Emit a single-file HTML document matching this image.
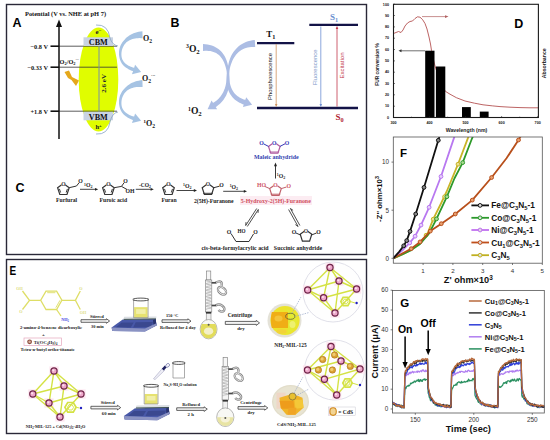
<!DOCTYPE html>
<html><head><meta charset="utf-8"><title>figure</title>
<style>html,body{margin:0;padding:0;background:#fff;width:550px;height:440px;overflow:hidden}svg{display:block}</style>
</head><body>
<svg width="550" height="440" viewBox="0 0 550 440">
<rect width="550" height="440" fill="#fff"/>
<rect x="6.5" y="4.5" width="360" height="250" fill="none" stroke="#2a2838" stroke-width="1.4"/>
<rect x="6.5" y="259.5" width="360" height="174" fill="none" stroke="#2a2838" stroke-width="1.4"/>
<text x="12.4" y="27.3" style="font-family:'Liberation Sans',sans-serif;font-weight:bold;font-size:12.5px" fill="#000" text-anchor="start" >A</text>
<text x="25" y="15.5" style="font-family:'Liberation Serif',serif;font-weight:bold;font-size:6.4px" fill="#111" text-anchor="start" >Potential (V vs. NHE at pH 7)</text>
<ellipse cx="98.5" cy="79.5" rx="19.8" ry="52" fill="#e0fd00"/>
<line x1="59" y1="46.2" x2="117" y2="46.2" stroke="#333" stroke-width="0.8"/>
<line x1="50.5" y1="46.2" x2="59" y2="46.2" stroke="#111" stroke-width="1.6"/>
<line x1="59" y1="67.2" x2="117" y2="67.2" stroke="#333" stroke-width="0.8"/>
<line x1="50.5" y1="67.2" x2="59" y2="67.2" stroke="#111" stroke-width="1.6"/>
<line x1="59" y1="111.2" x2="117" y2="111.2" stroke="#333" stroke-width="0.8"/>
<line x1="50.5" y1="111.2" x2="59" y2="111.2" stroke="#111" stroke-width="1.6"/>
<line x1="59" y1="24" x2="59" y2="139" stroke="#111" stroke-width="1.5"/>
<polygon points="56,27 62,27 59,19.5" fill="#111"/>
<text x="48" y="48.5" style="font-family:'Liberation Serif',serif;font-weight:bold;font-size:6.3px" fill="#111" text-anchor="end" >−0.8 V</text>
<text x="48" y="69.5" style="font-family:'Liberation Serif',serif;font-weight:bold;font-size:6.3px" fill="#111" text-anchor="end" >−0.33 V</text>
<text x="48" y="113.5" style="font-family:'Liberation Serif',serif;font-weight:bold;font-size:6.3px" fill="#111" text-anchor="end" >+1.8 V</text>
<text x="59.6" y="63.8" style="font-family:'Liberation Serif',serif;font-weight:bold;font-size:6.3px" fill="#111" text-anchor="start" >O<tspan baseline-shift="-25%" style="font-size:70%">2</tspan>/O<tspan baseline-shift="-25%" style="font-size:70%">2</tspan><tspan dy="-2.4" style="font-size:60%">·−</tspan></text>
<rect x="83.5" y="37.3" width="29.5" height="8.7" fill="#c9d3e3"/>
<rect x="83.5" y="111.8" width="29.5" height="8.5" fill="#c9d3e3"/>
<text x="98.3" y="45.0" style="font-family:'Liberation Serif',serif;font-weight:bold;font-size:8.2px" fill="#111" text-anchor="middle" >CBM</text>
<text x="98.3" y="119.6" style="font-family:'Liberation Serif',serif;font-weight:bold;font-size:8.2px" fill="#111" text-anchor="middle" >VBM</text>
<text x="98.5" y="34" style="font-family:'Liberation Serif',serif;font-weight:bold;font-size:7px" fill="#222" text-anchor="middle" >e<tspan dy="-2.5" style="font-size:70%">−</tspan></text>
<text x="98.5" y="129" style="font-family:'Liberation Serif',serif;font-weight:bold;font-size:6.5px" fill="#222" text-anchor="middle" >h<tspan dy="-2.5" style="font-size:70%">+</tspan></text>
<line x1="99" y1="46" x2="99" y2="112" stroke="#7890a8" stroke-width="1"/>
<text x="0" y="0" transform="translate(106.2,83.3) rotate(-90)" style="font-family:'Liberation Serif',serif;font-weight:bold;font-size:7px" fill="#223" text-anchor="middle">2.6 eV</text>
<polygon points="64.5,72 69,70.5 72,77 79,80.5 76,86 71.5,80 68,78" fill="#e5a81c"/>
<path d="M96,25 Q108,24 110,38 Q112,45 118,46" fill="none" stroke="#88a4c4" stroke-width="0.8"/>
<path d="M96,134 Q108,135 110,122 Q112,113 118,112" fill="none" stroke="#88a4c4" stroke-width="0.8"/>
<polygon points="142.41,31.30 140.55,31.53 138.67,31.86 136.88,32.28 135.18,32.78 133.57,33.37 132.04,34.03 130.60,34.77 129.25,35.58 128.00,36.44 126.83,37.37 125.76,38.35 124.77,39.38 123.85,40.42 122.98,41.46 122.19,42.56 121.49,43.69 120.87,44.85 120.34,46.05 119.90,47.27 119.54,48.51 119.27,49.77 119.08,51.04 118.98,52.32 118.97,53.59 119.03,54.69 119.13,55.75 119.29,56.77 119.50,57.76 119.76,58.72 120.03,59.66 120.35,60.57 120.72,61.46 121.16,62.31 121.65,63.14 122.19,63.93 122.80,64.69 123.45,65.43 124.16,66.13 124.92,66.79 125.73,67.43 126.59,68.04 127.51,68.62 128.47,69.17 129.47,69.69 130.53,70.19 131.64,70.66 132.79,71.11 133.97,71.52 135.03,68.08 133.88,67.77 132.81,67.45 131.78,67.10 130.81,66.73 129.88,66.33 129.01,65.92 128.19,65.48 127.41,65.01 126.68,64.52 126.00,64.01 125.37,63.47 124.78,62.91 124.24,62.32 123.74,61.70 123.28,61.05 122.87,60.37 122.50,59.65 122.17,58.90 121.88,58.12 121.70,57.28 121.56,56.41 121.47,55.51 121.42,54.57 121.43,53.61 121.50,52.49 121.64,51.39 121.86,50.30 122.15,49.24 122.51,48.19 122.95,47.18 123.45,46.19 124.03,45.23 124.67,44.31 125.39,43.43 126.17,42.58 127.05,41.82 128.03,41.15 129.06,40.54 130.15,39.99 131.30,39.51 132.50,39.09 133.76,38.74 135.07,38.47 136.45,38.27 137.87,38.15 139.36,38.11 140.90,38.16 142.59,38.30" fill="#a6c3e3" fill-opacity="1.0"/>
<polygon points="131.99,74.24 141.15,71.98 135.11,64.74" fill="#a6c3e3" fill-opacity="1.0"/>
<polygon points="142.41,80.10 140.55,80.33 138.67,80.66 136.88,81.08 135.18,81.58 133.57,82.17 132.04,82.83 130.60,83.57 129.25,84.38 128.00,85.24 126.83,86.17 125.76,87.15 124.77,88.18 123.85,89.22 122.98,90.26 122.19,91.36 121.49,92.49 120.87,93.65 120.34,94.85 119.90,96.07 119.54,97.31 119.27,98.57 119.08,99.84 118.98,101.12 118.97,102.39 119.03,103.49 119.13,104.55 119.29,105.57 119.50,106.56 119.76,107.52 120.03,108.46 120.35,109.37 120.72,110.26 121.16,111.11 121.65,111.94 122.19,112.73 122.80,113.49 123.45,114.23 124.16,114.93 124.92,115.59 125.73,116.23 126.59,116.84 127.51,117.42 128.47,117.97 129.47,118.49 130.53,118.99 131.64,119.46 132.79,119.91 133.97,120.32 135.03,116.88 133.88,116.57 132.81,116.25 131.78,115.90 130.81,115.53 129.88,115.13 129.01,114.72 128.19,114.28 127.41,113.81 126.68,113.32 126.00,112.81 125.37,112.27 124.78,111.71 124.24,111.12 123.74,110.50 123.28,109.85 122.87,109.17 122.50,108.45 122.17,107.70 121.88,106.92 121.70,106.08 121.56,105.21 121.47,104.31 121.42,103.37 121.43,102.41 121.50,101.29 121.64,100.19 121.86,99.10 122.15,98.04 122.51,96.99 122.95,95.98 123.45,94.99 124.03,94.03 124.67,93.11 125.39,92.23 126.17,91.38 127.05,90.62 128.03,89.95 129.06,89.34 130.15,88.79 131.30,88.31 132.50,87.89 133.76,87.54 135.07,87.27 136.45,87.07 137.87,86.95 139.36,86.91 140.90,86.96 142.59,87.10" fill="#a6c3e3" fill-opacity="1.0"/>
<polygon points="131.99,123.04 141.15,120.78 135.11,113.54" fill="#a6c3e3" fill-opacity="1.0"/>
<text x="143" y="40.5" style="font-family:'Liberation Serif',serif;font-weight:bold;font-size:8px" fill="#111" text-anchor="start" >O<tspan baseline-shift="-25%" style="font-size:70%">2</tspan></text>
<text x="142" y="80.5" style="font-family:'Liberation Serif',serif;font-weight:bold;font-size:8px" fill="#111" text-anchor="start" >O<tspan baseline-shift="-25%" style="font-size:70%">2</tspan><tspan dy="-3.5" style="font-size:60%">·−</tspan></text>
<text x="143.5" y="125.5" style="font-family:'Liberation Serif',serif;font-weight:bold;font-size:8px" fill="#111" text-anchor="start" ><tspan dy="-3" style="font-size:60%">1</tspan><tspan dy="3">O</tspan><tspan baseline-shift="-25%" style="font-size:70%">2</tspan></text>
<text x="170.6" y="27.2" style="font-family:'Liberation Sans',sans-serif;font-weight:bold;font-size:12.4px" fill="#000" text-anchor="start" >B</text>
<text x="186" y="51.5" style="font-family:'Liberation Serif',serif;font-weight:bold;font-size:9.6px" fill="#111" text-anchor="start" ><tspan dy="-3.5" style="font-size:60%">3</tspan><tspan dy="3.5">O</tspan><tspan baseline-shift="-25%" style="font-size:70%">2</tspan></text>
<text x="188" y="114" style="font-family:'Liberation Serif',serif;font-weight:bold;font-size:9.6px" fill="#111" text-anchor="start" ><tspan dy="-3.5" style="font-size:60%">1</tspan><tspan dy="3.5">O</tspan><tspan baseline-shift="-25%" style="font-size:70%">2</tspan></text>
<polygon points="202.99,51.00 205.08,50.84 206.94,50.80 208.71,50.90 210.38,51.11 211.95,51.44 213.44,51.89 214.84,52.45 216.17,53.11 217.43,53.89 218.61,54.78 219.72,55.79 220.74,56.93 221.69,58.17 222.56,59.51 223.37,60.96 224.10,62.51 224.76,64.16 225.34,65.89 225.85,67.72 226.29,69.62 226.66,71.61 226.77,73.68 226.78,75.82 226.71,78.02 226.67,79.77 226.71,81.49 226.82,83.15 227.01,84.76 227.27,86.31 227.61,87.81 228.02,89.25 228.50,90.64 229.07,91.97 229.71,93.24 230.42,94.45 231.20,95.61 232.05,96.70 232.95,97.74 233.91,98.71 234.93,99.63 236.01,100.49 237.13,101.29 238.30,102.03 239.52,102.71 240.79,103.34 242.09,103.91 243.43,104.43 244.76,104.89 246.24,100.11 244.98,99.77 243.81,99.40 242.68,98.98 241.59,98.52 240.54,98.02 239.54,97.46 238.58,96.87 237.66,96.22 236.78,95.53 235.95,94.79 235.17,93.99 234.42,93.14 233.73,92.24 233.07,91.28 232.47,90.25 231.90,89.17 231.38,88.03 230.91,86.81 230.49,85.53 230.13,84.17 229.82,82.74 229.58,81.24 229.40,79.66 229.29,77.98 229.15,75.74 228.93,73.53 228.67,71.39 228.51,69.29 228.25,67.24 227.91,65.25 227.47,63.32 226.94,61.45 226.31,59.65 225.57,57.92 224.72,56.27 223.76,54.70 222.68,53.21 221.51,51.81 220.21,50.48 218.79,49.26 217.24,48.15 215.56,47.16 213.75,46.29 211.82,45.56 209.77,44.96 207.60,44.50 205.31,44.18 203.01,44.00" fill="#acbde4" fill-opacity="1.0"/>
<polygon points="242.92,107.12 252.14,104.70 246.19,97.25" fill="#acbde4" fill-opacity="1.0"/>
<polygon points="254.79,40.01 252.49,40.31 250.17,40.76 247.97,41.36 245.87,42.09 243.89,42.96 242.02,43.96 240.27,45.09 238.64,46.33 237.12,47.69 235.73,49.15 234.45,50.70 233.26,52.33 232.18,54.05 231.22,55.86 230.37,57.76 229.63,59.73 228.99,61.78 228.46,63.91 228.03,66.10 227.71,68.36 227.38,70.67 227.04,73.04 226.79,75.48 226.64,77.97 226.53,79.67 226.37,81.27 226.15,82.82 225.88,84.30 225.56,85.72 225.20,87.08 224.78,88.38 224.32,89.62 223.84,90.82 223.32,91.97 222.75,93.06 222.14,94.10 221.50,95.10 220.82,96.05 220.10,96.96 219.35,97.82 218.57,98.65 217.75,99.43 216.91,100.17 216.03,100.88 215.12,101.55 214.19,102.18 213.22,102.78 212.19,103.37 214.81,107.63 215.88,106.93 216.96,106.17 218.01,105.37 219.02,104.52 220.00,103.63 220.95,102.70 221.86,101.72 222.72,100.69 223.54,99.63 224.32,98.51 225.05,97.35 225.73,96.15 226.36,94.89 226.94,93.59 227.47,92.25 227.93,90.86 228.33,89.41 228.66,87.92 228.94,86.39 229.15,84.80 229.30,83.18 229.39,81.50 229.41,79.77 229.36,78.03 229.30,75.58 229.33,73.22 229.46,70.92 229.79,68.71 230.31,66.60 230.92,64.58 231.60,62.65 232.37,60.82 233.22,59.09 234.15,57.47 235.16,55.95 236.24,54.55 237.40,53.25 238.64,52.08 239.97,51.04 241.36,50.11 242.83,49.31 244.36,48.62 245.96,48.04 247.63,47.59 249.37,47.26 251.20,47.04 253.11,46.96 255.21,46.99" fill="#acbde4" fill-opacity="1.0"/>
<polygon points="211.54,100.58 207.60,109.27 217.14,109.34" fill="#acbde4" fill-opacity="1.0"/>
<line x1="257" y1="43.1" x2="294.3" y2="43.1" stroke="#131347" stroke-width="2.3"/>
<line x1="309.3" y1="24.9" x2="358" y2="24.9" stroke="#131347" stroke-width="2.3"/>
<line x1="257" y1="108" x2="358" y2="108" stroke="#131347" stroke-width="2.3"/>
<text x="266.3" y="37.2" style="font-family:'Liberation Serif',serif;font-weight:bold;font-size:9px" fill="#111" text-anchor="start" >T<tspan baseline-shift="-25%" style="font-size:70%">1</tspan></text>
<text x="330" y="19.8" style="font-family:'Liberation Serif',serif;font-weight:bold;font-size:9px" fill="#6a8fcf" text-anchor="start" font-weight="normal">S<tspan baseline-shift="-25%" style="font-size:70%">1</tspan></text>
<text x="335.6" y="119.8" style="font-family:'Liberation Serif',serif;font-weight:bold;font-size:9px" fill="#b02432" text-anchor="start" >S<tspan baseline-shift="-25%" style="font-size:70%">0</tspan></text>
<line x1="276.2" y1="44" x2="276.2" y2="106.6" stroke="#cf9460" stroke-width="0.8"/>
<polygon points="274.9,104.1 277.5,104.1 276.2,106.6" fill="#cf9460"/>
<line x1="320.8" y1="26.5" x2="320.8" y2="106.6" stroke="#6f8fd3" stroke-width="0.8"/>
<polygon points="319.5,104.1 322.1,104.1 320.8,106.6" fill="#6f8fd3"/>
<line x1="337" y1="106.6" x2="337" y2="26.5" stroke="#c2394c" stroke-width="0.8"/>
<polygon points="335.7,29.0 338.3,29.0 337,26.5" fill="#c2394c"/>
<text transform="translate(272.4,76.5) rotate(-90)" style="font-family:'Liberation Sans',sans-serif;font-size:5.9px" fill="#222" text-anchor="middle">Phosphorescence</text>
<text transform="translate(316.8,67.3) rotate(-90)" style="font-family:'Liberation Sans',sans-serif;font-size:6px" fill="#7d98c8" text-anchor="middle">Fluorescence</text>
<text transform="translate(344.3,65.5) rotate(-90)" style="font-family:'Liberation Sans',sans-serif;font-size:6px" fill="#c2394c" text-anchor="middle">Excitation</text>
<text x="15.5" y="191.5" style="font-family:'Liberation Sans',sans-serif;font-weight:bold;font-size:12.5px" fill="#000" text-anchor="start" >C</text>
<polygon points="63.4,183.5 69.2,187.7 67.0,194.5 59.8,194.5 57.6,187.7" fill="none" stroke="#333" stroke-width="1.2"/>
<line x1="67.4" y1="188.9" x2="66.2" y2="192.5" stroke="#333" stroke-width="0.96"/>
<line x1="60.6" y1="192.5" x2="59.4" y2="188.9" stroke="#333" stroke-width="0.96"/>
<circle cx="63.4" cy="184.1" r="2.2" fill="#fff"/>
<text x="63.4" y="186.1" style="font-family:'Liberation Serif',serif;font-weight:bold;font-size:5.6px" fill="#333" text-anchor="middle" >O</text>
<polyline points="69.2,187.7 76.5,186 79,182.8" fill="none" stroke="#333" stroke-width="1"/>
<text x="80.5" y="182.5" style="font-family:'Liberation Serif',serif;font-weight:bold;font-size:5.8px" fill="#222" text-anchor="middle" >O</text>
<text x="66.6" y="202.3" style="font-family:'Liberation Serif',serif;font-weight:bold;font-size:5.7px" fill="#222" text-anchor="middle" >Furfural</text>
<line x1="80" y1="189.3" x2="96.2" y2="189.3" stroke="#222" stroke-width="0.85"/>
<polygon points="95.0,187.9 98.2,189.3 95.0,190.70000000000002" fill="#222"/>
<text x="84" y="187.3" style="font-family:'Liberation Serif',serif;font-weight:bold;font-size:5.8px" fill="#222" text-anchor="start" ><tspan dy="-1.8" style="font-size:65%">1</tspan><tspan dy="1.8">O</tspan><tspan baseline-shift="-25%" style="font-size:70%">2</tspan></text>
<polygon points="108.4,183.5 114.2,187.7 112.0,194.5 104.8,194.5 102.6,187.7" fill="none" stroke="#333" stroke-width="1.2"/>
<line x1="112.4" y1="188.9" x2="111.2" y2="192.5" stroke="#333" stroke-width="0.96"/>
<line x1="105.6" y1="192.5" x2="104.4" y2="188.9" stroke="#333" stroke-width="0.96"/>
<circle cx="108.4" cy="184.1" r="2.2" fill="#fff"/>
<text x="108.4" y="186.1" style="font-family:'Liberation Serif',serif;font-weight:bold;font-size:5.6px" fill="#333" text-anchor="middle" >O</text>
<polyline points="114.2,187.7 121.5,186.4 127,189.5" fill="none" stroke="#333" stroke-width="1"/>
<line x1="121.5" y1="186.4" x2="124" y2="182.8" stroke="#333" stroke-width="1"/>
<text x="125.4" y="182.5" style="font-family:'Liberation Serif',serif;font-weight:bold;font-size:5.8px" fill="#222" text-anchor="middle" >O</text>
<text x="130" y="193" style="font-family:'Liberation Serif',serif;font-weight:bold;font-size:5.8px" fill="#222" text-anchor="middle" >OH</text>
<text x="113.3" y="202.3" style="font-family:'Liberation Serif',serif;font-weight:bold;font-size:5.7px" fill="#222" text-anchor="middle" >Furoic acid</text>
<line x1="135.8" y1="189.3" x2="151.8" y2="189.3" stroke="#222" stroke-width="0.85"/>
<polygon points="150.60000000000002,187.9 153.8,189.3 150.60000000000002,190.70000000000002" fill="#222"/>
<text x="139" y="187" style="font-family:'Liberation Serif',serif;font-weight:bold;font-size:5.5px" fill="#222" text-anchor="start" >-CO<tspan baseline-shift="-25%" style="font-size:70%">2</tspan></text>
<polygon points="168.5,183.5 174.3,187.7 172.1,194.5 164.9,194.5 162.7,187.7" fill="none" stroke="#333" stroke-width="1.2"/>
<line x1="172.5" y1="188.9" x2="171.3" y2="192.5" stroke="#333" stroke-width="0.96"/>
<line x1="165.7" y1="192.5" x2="164.5" y2="188.9" stroke="#333" stroke-width="0.96"/>
<circle cx="168.5" cy="184.1" r="2.2" fill="#fff"/>
<text x="168.5" y="186.1" style="font-family:'Liberation Serif',serif;font-weight:bold;font-size:5.6px" fill="#333" text-anchor="middle" >O</text>
<text x="169" y="202.3" style="font-family:'Liberation Serif',serif;font-weight:bold;font-size:5.7px" fill="#222" text-anchor="middle" >Furan</text>
<line x1="176.5" y1="190.5" x2="195" y2="190.5" stroke="#222" stroke-width="0.85"/>
<polygon points="193.8,189.1 197,190.5 193.8,191.9" fill="#222"/>
<text x="183" y="188.2" style="font-family:'Liberation Serif',serif;font-weight:bold;font-size:5.8px" fill="#222" text-anchor="start" ><tspan dy="-1.8" style="font-size:65%">1</tspan><tspan dy="1.8">O</tspan><tspan baseline-shift="-25%" style="font-size:70%">2</tspan></text>
<polygon points="208.0,183.5 213.8,187.7 211.6,194.5 204.4,194.5 202.2,187.7" fill="none" stroke="#333" stroke-width="1.2"/>
<line x1="212.8" y1="193.3" x2="203.2" y2="193.3" stroke="#333" stroke-width="0.96"/>
<circle cx="208.0" cy="184.1" r="2.2" fill="#fff"/>
<text x="208.0" y="186.1" style="font-family:'Liberation Serif',serif;font-weight:bold;font-size:5.6px" fill="#333" text-anchor="middle" >O</text>
<line x1="213.8" y1="187.7" x2="219.5" y2="186.2" stroke="#333" stroke-width="1"/>
<text x="221.5" y="187" style="font-family:'Liberation Serif',serif;font-weight:bold;font-size:5.8px" fill="#222" text-anchor="middle" >O</text>
<text x="213.7" y="202.6" style="font-family:'Liberation Serif',serif;font-weight:bold;font-size:5.7px" fill="#222" text-anchor="middle" >2(5H)-Furanone</text>
<line x1="223.2" y1="191.3" x2="245" y2="191.3" stroke="#222" stroke-width="0.85"/>
<polygon points="243.8,189.9 247,191.3 243.8,192.70000000000002" fill="#222"/>
<text x="229.7" y="189" style="font-family:'Liberation Serif',serif;font-weight:bold;font-size:5.8px" fill="#222" text-anchor="start" ><tspan dy="-1.8" style="font-size:65%">1</tspan><tspan dy="1.8">O</tspan><tspan baseline-shift="-25%" style="font-size:70%">2</tspan></text>
<rect x="240" y="196" width="72" height="9" fill="#fcecf2"/>
<polygon points="275.5,184.4 281.3,188.6 279.1,195.4 271.9,195.4 269.7,188.6" fill="none" stroke="#c0606a" stroke-width="1.2"/>
<line x1="280.3" y1="194.2" x2="270.7" y2="194.2" stroke="#c0606a" stroke-width="0.96"/>
<circle cx="275.5" cy="185.0" r="2.2" fill="#fff"/>
<text x="275.5" y="187.0" style="font-family:'Liberation Serif',serif;font-weight:bold;font-size:5.6px" fill="#cf5566" text-anchor="middle" >O</text>
<text x="261.4" y="187.3" style="font-family:'Liberation Serif',serif;font-weight:bold;font-size:5.8px" fill="#cf5566" text-anchor="middle" >HO</text>
<line x1="265" y1="186.5" x2="269.7" y2="188.6" stroke="#c0606a" stroke-width="1"/>
<line x1="281.3" y1="188.6" x2="286.5" y2="187" stroke="#c0606a" stroke-width="1"/>
<text x="288.7" y="187.5" style="font-family:'Liberation Serif',serif;font-weight:bold;font-size:5.8px" fill="#cf5566" text-anchor="middle" >O</text>
<text x="275.8" y="202.7" style="font-family:'Liberation Serif',serif;font-weight:bold;font-size:5.9px" fill="#d0505f" text-anchor="middle" >5-Hydroxy-2(5H)-Furanone</text>
<line x1="275.5" y1="178.5" x2="275.5" y2="165" stroke="#222" stroke-width="0.9"/>
<polygon points="274,166.3 275.5,162.5 277,166.3" fill="#222"/>
<text x="276.8" y="177.5" style="font-family:'Liberation Serif',serif;font-weight:bold;font-size:5.8px" fill="#222" text-anchor="start" ><tspan dy="-1.8" style="font-size:65%">1</tspan><tspan dy="1.8">O</tspan><tspan baseline-shift="-25%" style="font-size:70%">2</tspan></text>
<polygon points="274.3,142.2 280.1,146.4 277.9,153.2 270.7,153.2 268.5,146.4" fill="none" stroke="#b05aa0" stroke-width="1.2"/>
<line x1="279.1" y1="152.0" x2="269.5" y2="152.0" stroke="#b05aa0" stroke-width="0.96"/>
<circle cx="274.3" cy="142.8" r="2.2" fill="#fff"/>
<text x="274.3" y="144.8" style="font-family:'Liberation Serif',serif;font-weight:bold;font-size:5.6px" fill="#3438b8" text-anchor="middle" >O</text>
<text x="261.4" y="144.6" style="font-family:'Liberation Serif',serif;font-weight:bold;font-size:5.8px" fill="#3438b8" text-anchor="middle" >O</text>
<text x="287" y="144.6" style="font-family:'Liberation Serif',serif;font-weight:bold;font-size:5.8px" fill="#3438b8" text-anchor="middle" >O</text>
<line x1="263.5" y1="143.8" x2="268.5" y2="146.4" stroke="#3438b8" stroke-width="1"/>
<line x1="280" y1="146.4" x2="285" y2="143.8" stroke="#3438b8" stroke-width="1"/>
<text x="276.3" y="158.8" style="font-family:'Liberation Serif',serif;font-weight:bold;font-size:5.95px" fill="#3444b0" text-anchor="middle" >Maleic anhydride</text>
<line x1="247.3" y1="226.5" x2="258.3" y2="209.5" stroke="#222" stroke-width="0.8"/>
<line x1="258.3" y1="209.5" x2="258.0" y2="212.9" stroke="#222" stroke-width="0.8"/>
<line x1="245.7" y1="225.5" x2="256.7" y2="208.5" stroke="#222" stroke-width="0.8"/>
<line x1="245.7" y1="225.5" x2="246.0" y2="222.1" stroke="#222" stroke-width="0.8"/>
<line x1="288.6" y1="209.5" x2="298.1" y2="226.5" stroke="#222" stroke-width="0.8"/>
<line x1="298.1" y1="226.5" x2="295.4" y2="224.6" stroke="#222" stroke-width="0.8"/>
<line x1="290.4" y1="208.5" x2="299.9" y2="225.5" stroke="#222" stroke-width="0.8"/>
<line x1="290.4" y1="208.5" x2="293.1" y2="210.4" stroke="#222" stroke-width="0.8"/>
<polyline points="231,233.5 236,241.5 249,241.5 253.5,234" fill="none" stroke="#333" stroke-width="1"/>
<text x="229" y="233.5" style="font-family:'Liberation Serif',serif;font-weight:bold;font-size:5.8px" fill="#222" text-anchor="middle" >O</text>
<text x="241.5" y="233" style="font-family:'Liberation Serif',serif;font-weight:bold;font-size:5.2px" fill="#222" text-anchor="middle" >HO</text>
<text x="255.5" y="233.5" style="font-family:'Liberation Serif',serif;font-weight:bold;font-size:5.8px" fill="#222" text-anchor="middle" >O</text>
<text x="235" y="250.3" style="font-family:'Liberation Serif',serif;font-weight:bold;font-size:5.9px" fill="#222" text-anchor="middle" >cis-beta-formylacrylic acid</text>
<polygon points="306.0,230.1 311.8,234.3 309.6,241.1 302.4,241.1 300.2,234.3" fill="none" stroke="#333" stroke-width="1.2"/>
<circle cx="306.0" cy="230.7" r="2.2" fill="#fff"/>
<text x="306.0" y="232.7" style="font-family:'Liberation Serif',serif;font-weight:bold;font-size:5.6px" fill="#333" text-anchor="middle" >O</text>
<text x="294" y="233.5" style="font-family:'Liberation Serif',serif;font-weight:bold;font-size:5.8px" fill="#222" text-anchor="middle" >O</text>
<text x="318.6" y="233.5" style="font-family:'Liberation Serif',serif;font-weight:bold;font-size:5.8px" fill="#222" text-anchor="middle" >O</text>
<line x1="296" y1="233" x2="300.5" y2="235" stroke="#333" stroke-width="1"/>
<line x1="311.5" y1="235" x2="316.5" y2="233" stroke="#333" stroke-width="1"/>
<text x="298" y="250.3" style="font-family:'Liberation Serif',serif;font-weight:bold;font-size:5.9px" fill="#222" text-anchor="middle" >Succinic anhydride</text>
<text x="9.5" y="275" style="font-family:'Liberation Sans',sans-serif;font-weight:bold;font-size:12.5px" fill="#000" text-anchor="start" transform="translate(1.9 0) scale(0.8 1)">E</text>
<polygon points="61.9,300.3 56.6,309.5 46.0,309.5 40.7,300.3 46.0,291.1 56.6,291.1" fill="none" stroke="#dede66" stroke-width="1.3"/>
<line x1="47.2" y1="292.7" x2="55.4" y2="292.7" stroke="#dede66" stroke-width="0.9"/>
<line x1="55.8" y1="307.7" x2="60.0" y2="300.3" stroke="#dede66" stroke-width="0.9"/>
<polyline points="22.5,291 29.5,300.3 40.699999999999996,300.3" fill="none" stroke="#dede66" stroke-width="1.3"/>
<line x1="29.5" y1="300.3" x2="22.5" y2="309.5" stroke="#dede66" stroke-width="1.3"/>
<polyline points="61.9,300.3 75.4,300.3 80.3,291" fill="none" stroke="#dede66" stroke-width="1.3"/>
<line x1="75.4" y1="300.3" x2="80.3" y2="309.5" stroke="#dede66" stroke-width="1.3"/>
<line x1="56.6" y1="309.5" x2="61" y2="316" stroke="#dede66" stroke-width="1.3"/>
<text x="19.5" y="290" style="font-family:'Liberation Serif',serif;font-weight:bold;font-size:4.2px" fill="#e0e08a" text-anchor="middle" >OH</text>
<text x="21" y="313" style="font-family:'Liberation Serif',serif;font-weight:bold;font-size:4.2px" fill="#e0e08a" text-anchor="middle" >O</text>
<text x="81" y="290" style="font-family:'Liberation Serif',serif;font-weight:bold;font-size:4.2px" fill="#e0e08a" text-anchor="middle" >O</text>
<text x="83" y="313.5" style="font-family:'Liberation Serif',serif;font-weight:bold;font-size:4.2px" fill="#e0e08a" text-anchor="middle" >OH</text>
<text x="65" y="321.3" style="font-family:'Liberation Serif',serif;font-weight:bold;font-size:4.2px" fill="#4040e0" text-anchor="middle" >NH<tspan baseline-shift="-25%" style="font-size:70%">2</tspan></text>
<text x="51" y="329.2" style="font-family:'Liberation Serif',serif;font-weight:bold;font-size:4.55px" fill="#222" text-anchor="middle" >2-amino-4-benzene dicarboxylic</text>
<text x="43.5" y="336" style="font-family:'Liberation Serif',serif;font-weight:bold;font-size:5px" fill="#333" text-anchor="middle" >+</text>
<rect x="24" y="338" width="37.5" height="7.5" fill="#fff" stroke="#e4a6bc" stroke-width="0.7"/>
<circle cx="29.6" cy="341.8" r="2.4" fill="#8a4a3a"/><circle cx="29.6" cy="341.8" r="1.3" fill="#d8b0a0"/>
<text x="45.5" y="344" style="font-family:'Liberation Serif',serif;font-weight:bold;font-size:4.8px" fill="#333" text-anchor="middle" >Ti(OC<tspan baseline-shift="-25%" style="font-size:70%">4</tspan>H<tspan baseline-shift="-25%" style="font-size:70%">9</tspan>)<tspan baseline-shift="-25%" style="font-size:70%">4</tspan></text>
<text x="47.7" y="351.3" style="font-family:'Liberation Serif',serif;font-weight:bold;font-size:4.55px" fill="#222" text-anchor="middle" >Tetra-n-butyl ortho-titanate</text>
<polygon points="81,319.7 106.39999999999999,319.7 106.39999999999999,318.7 109.6,321 106.39999999999999,323.3 106.39999999999999,322.3 81,322.3" fill="#f4f4f4" stroke="#333" stroke-width="0.75"/>
<text x="96.9" y="317.8" style="font-family:'Liberation Serif',serif;font-weight:bold;font-size:4.6px" fill="#222" text-anchor="middle" >Stirred</text>
<text x="97.4" y="327.5" style="font-family:'Liberation Serif',serif;font-weight:bold;font-size:4.4px" fill="#222" text-anchor="middle" >30 min</text>
<polygon points="122.7,319.6 155.7,318.8 156.5,325.5 145.0,331.6 112.3,331.0 111.6,327.5" fill="#4858a8"/>
<polygon points="121.7,322.5 133.7,322.5 130.7,327.5 115.7,327.5" fill="#3a488f"/>
<polygon points="135.7,322.3 153.0,322.0 151.0,327.0 133.2,327.5" fill="#3a488f"/>
<polygon points="155.7,318.8 156.5,325.5 153.5,326.5 153.0,320.0" fill="#2a3470"/>
<polygon points="111.6,327.5 145.0,328.6 156.5,323.2 156.5,325.5 145.0,331.6 112.3,331.0" fill="#8b93c3"/>
<polygon points="124.2,316.8 156.5,316.4 156.0,319.0 123.2,319.6" fill="#dadee2"/>
<line x1="123.7" y1="319.4" x2="156.0" y2="318.9" stroke="#3d5052" stroke-width="1"/>
<rect x="134.1" y="307.144" width="13.5" height="10.555999999999983" fill="#e6e270"/>
<rect x="136.1" y="309.144" width="9.5" height="4.750199999999992" fill="#f4f2b8" opacity="0.8"/>
<path d="M133.6,299.5 L133.6,317.7 L148.1,317.7 L148.1,299.5" fill="none" stroke="#888" stroke-width="0.7"/>
<ellipse cx="140.85" cy="299.5" rx="8.05" ry="1.4" fill="none" stroke="#444" stroke-width="0.9"/>
<polygon points="162,319.8 187.8,319.8 187.8,318.8 191,321.1 187.8,323.40000000000003 187.8,322.40000000000003 162,322.40000000000003" fill="#f4f4f4" stroke="#333" stroke-width="0.75"/>
<text x="172.1" y="316.6" style="font-family:'Liberation Serif',serif;font-weight:bold;font-size:4.3px" fill="#222" text-anchor="middle" >150 °C</text>
<text x="177.9" y="328.9" style="font-family:'Liberation Serif',serif;font-weight:bold;font-size:4.56px" fill="#222" text-anchor="middle" >Refluxed for 4 day</text>
<rect x="206.4" y="271" width="4.4" height="9" fill="#f6f6f6" stroke="#777" stroke-width="0.6"/>
<rect x="205.4" y="280" width="6.4" height="32" fill="#f4f4f4" stroke="#777" stroke-width="0.6"/>
<path d="M206.4,281 Q212.6,281.8 210.79999999999998,282.6 Q204.6,283.4 206.4,284.2 Q212.6,285.0 210.79999999999998,285.8 Q204.6,286.59999999999997 206.4,287.4 Q212.6,288.2 210.79999999999998,289.0 Q204.6,289.79999999999995 206.4,290.59999999999997 Q212.6,291.40000000000003 210.79999999999998,292.20000000000005 Q204.6,293.0 206.4,293.8 Q212.6,294.6 210.79999999999998,295.40000000000003 Q204.6,296.2 206.4,297.0 Q212.6,297.8 210.79999999999998,298.6 Q204.6,299.4 206.4,300.2 Q212.6,301.0 210.79999999999998,301.8 Q204.6,302.59999999999997 206.4,303.4 Q212.6,304.2 210.79999999999998,305.0 Q204.6,305.79999999999995 206.4,306.59999999999997 Q212.6,307.40000000000003 210.79999999999998,308.20000000000005 Q204.6,309.0 206.4,309.8" fill="none" stroke="#8a8a8a" stroke-width="0.5"/>
<rect x="206.2" y="312" width="4.8" height="9.0" fill="#f0f0f0" stroke="#777" stroke-width="0.5"/>
<rect x="206.0" y="312" width="5.2" height="1.6" fill="#333"/>
<clipPath id="fl1"><rect x="199.15" y="324" width="18.9" height="19.4"/></clipPath>
<ellipse cx="208.6" cy="329.2" rx="8.45" ry="9.7" fill="#f8f8f4" stroke="#8a8a8a" stroke-width="0.6"/>
<ellipse cx="208.6" cy="329.2" rx="8.049999999999999" ry="9.299999999999999" fill="#e2dc5a" clip-path="url(#fl1)"/>
<ellipse cx="208.6" cy="331.14" rx="4.6475" ry="3.686" fill="#f4f0c8" clip-path="url(#fl1)"/>
<circle cx="208.6" cy="324.8" r="1.0" fill="#555"/>
<path d="M215.6,282.8 C219.6,280.3 222.6,281.3 221.6,285.8" fill="none" stroke="#858585" stroke-width="2.3"/>
<ellipse cx="222.0" cy="290.8" rx="4.6" ry="3.1" transform="rotate(40 222.0 290.8)" fill="none" stroke="#858585" stroke-width="2.3"/>
<path d="M215.6,305.5 C220.6,302.5 225.6,307.5 224.1,310.5 C222.6,312.5 219.6,311.5 218.6,310.0" fill="none" stroke="#858585" stroke-width="2.3"/>
<path d="M215.6,282.8 C219.6,280.3 222.6,281.3 221.6,285.8" fill="none" stroke="#e4e4e4" stroke-width="0.9"/>
<ellipse cx="222.0" cy="290.8" rx="4.6" ry="3.1" transform="rotate(40 222.0 290.8)" fill="none" stroke="#e4e4e4" stroke-width="0.9"/>
<path d="M215.6,305.5 C220.6,302.5 225.6,307.5 224.1,310.5 C222.6,312.5 219.6,311.5 218.6,310.0" fill="none" stroke="#e4e4e4" stroke-width="0.9"/>
<line x1="211.6" y1="282.8" x2="216.1" y2="282.8" stroke="#4a4a4a" stroke-width="1.7"/>
<line x1="211.6" y1="305.5" x2="216.1" y2="305.5" stroke="#4a4a4a" stroke-width="1.7"/>
<polygon points="225.3,321.4 256.3,321.4 256.3,320.4 259.5,322.9 256.3,325.4 256.3,324.4 225.3,324.4" fill="#f4f4f4" stroke="#333" stroke-width="0.75"/>
<text x="240" y="317.1" style="font-family:'Liberation Serif',serif;font-weight:bold;font-size:5.3px" fill="#222" text-anchor="middle" >Centrifuge</text>
<text x="240.9" y="329.8" style="font-family:'Liberation Serif',serif;font-weight:bold;font-size:5.0px" fill="#222" text-anchor="middle" >dry</text>
<circle cx="284.5" cy="320.5" r="17" fill="#e4e2d8"/>
<circle cx="285.0" cy="320.5" r="14.62" fill="#ece42e"/>
<path d="M286.5,308.5 Q296.5,311.5 297.5,321.5 Q295.5,330.5 287.5,333.5 L288.5,322.5 Z" fill="#e4ea34"/>
<path d="M271.8,312.0 L288.0,312.0 L288.0,328.0 L271.8,328.0 Q270.0,320.5 271.8,312.0 Z" fill="#f0ae16"/>
<ellipse cx="278.5" cy="318.5" rx="4" ry="3" fill="#f4c43a"/>
<ellipse cx="281.5" cy="331.5" rx="5" ry="2.2" fill="#f2d23a"/>
<ellipse cx="292.5" cy="324.5" rx="3" ry="3.5" fill="#eef070"/>
<ellipse cx="290.3" cy="316.3" rx="4.6" ry="3" fill="none" stroke="#4a4a3a" stroke-width="0.7"/>
<line x1="292" y1="313.2" x2="301" y2="297" stroke="#9aa8c8" stroke-width="0.7" stroke-dasharray="1.5,1"/>
<line x1="295" y1="316.5" x2="309" y2="312.5" stroke="#9aa8c8" stroke-width="0.7" stroke-dasharray="1.5,1"/>
<text x="290.5" y="347.3" style="font-family:'Liberation Serif',serif;font-weight:bold;font-size:5.4px" fill="#222" text-anchor="middle" >NH<tspan baseline-shift="-25%" style="font-size:70%">2</tspan>-MIL-125</text>
<circle cx="333" cy="292" r="30" fill="#fefefe" stroke="#dcdce6" stroke-width="0.9"/>
<rect x="325.4" y="262.9" width="9.2" height="9.2" fill="#fde6f0"/>
<rect x="334.4" y="276.4" width="9.2" height="9.2" fill="#fde6f0"/>
<rect x="303.09999999999997" y="285.4" width="9.2" height="9.2" fill="#fde6f0"/>
<rect x="352.0" y="284.4" width="9.2" height="9.2" fill="#fde6f0"/>
<rect x="319.0" y="293.09999999999997" width="9.2" height="9.2" fill="#fde6f0"/>
<rect x="330.4" y="308.4" width="9.2" height="9.2" fill="#fde6f0"/>
<line x1="330" y1="267.5" x2="307.7" y2="290" stroke="#d4e244" stroke-width="1.4"/>
<line x1="330" y1="267.5" x2="356.6" y2="289" stroke="#d4e244" stroke-width="1.4"/>
<line x1="330" y1="267.5" x2="323.6" y2="297.7" stroke="#d4e244" stroke-width="1.4"/>
<line x1="330" y1="267.5" x2="339" y2="281" stroke="#d4e244" stroke-width="1.4"/>
<line x1="335" y1="313" x2="307.7" y2="290" stroke="#d4e244" stroke-width="1.4"/>
<line x1="335" y1="313" x2="356.6" y2="289" stroke="#d4e244" stroke-width="1.4"/>
<line x1="335" y1="313" x2="323.6" y2="297.7" stroke="#d4e244" stroke-width="1.4"/>
<line x1="335" y1="313" x2="339" y2="281" stroke="#d4e244" stroke-width="1.4"/>
<line x1="307.7" y1="290" x2="323.6" y2="297.7" stroke="#d4e244" stroke-width="1.4"/>
<line x1="323.6" y1="297.7" x2="356.6" y2="289" stroke="#d4e244" stroke-width="1.4"/>
<line x1="356.6" y1="289" x2="339" y2="281" stroke="#d4e244" stroke-width="1.4"/>
<line x1="307.7" y1="290" x2="339" y2="281" stroke="#d4e244" stroke-width="1.4"/>
<polygon points="350.2,301.5 347.9,305.6 343.1,305.6 340.8,301.5 343.1,297.4 347.9,297.4" fill="none" stroke="#d4e244" stroke-width="1.7"/>
<polygon points="348.1,301.5 346.8,303.7 344.2,303.7 342.9,301.5 344.2,299.3 346.8,299.3" fill="none" stroke="#d4e244" stroke-width="0.9"/>
<line x1="350.2" y1="301.5" x2="355.1" y2="303" stroke="#d4e244" stroke-width="1"/>
<circle cx="356.6" cy="303" r="1.2" fill="#2020c0"/>
<circle cx="330" cy="267.5" r="3.1" fill="#eea6ca" stroke="#6e2448" stroke-width="1.2"/>
<circle cx="329.3" cy="266.8" r="1.1" fill="#fbe2ee"/>
<circle cx="339" cy="281" r="3.1" fill="#eea6ca" stroke="#6e2448" stroke-width="1.2"/>
<circle cx="338.3" cy="280.3" r="1.1" fill="#fbe2ee"/>
<circle cx="307.7" cy="290" r="3.1" fill="#eea6ca" stroke="#6e2448" stroke-width="1.2"/>
<circle cx="307.0" cy="289.3" r="1.1" fill="#fbe2ee"/>
<circle cx="356.6" cy="289" r="3.1" fill="#eea6ca" stroke="#6e2448" stroke-width="1.2"/>
<circle cx="355.90000000000003" cy="288.3" r="1.1" fill="#fbe2ee"/>
<circle cx="323.6" cy="297.7" r="3.1" fill="#eea6ca" stroke="#6e2448" stroke-width="1.2"/>
<circle cx="322.90000000000003" cy="297.0" r="1.1" fill="#fbe2ee"/>
<circle cx="335" cy="313" r="3.1" fill="#eea6ca" stroke="#6e2448" stroke-width="1.2"/>
<circle cx="334.3" cy="312.3" r="1.1" fill="#fbe2ee"/>
<rect x="49.4" y="366.4" width="9.2" height="9.2" fill="#fde6f0"/>
<rect x="59.4" y="381.4" width="9.2" height="9.2" fill="#fde6f0"/>
<rect x="28.199999999999996" y="389.4" width="9.2" height="9.2" fill="#fde6f0"/>
<rect x="76.4" y="389.4" width="9.2" height="9.2" fill="#fde6f0"/>
<rect x="44.4" y="398.4" width="9.2" height="9.2" fill="#fde6f0"/>
<rect x="55.4" y="412.4" width="9.2" height="9.2" fill="#fde6f0"/>
<line x1="54" y1="371" x2="32.8" y2="394" stroke="#d4e244" stroke-width="1.4"/>
<line x1="54" y1="371" x2="81" y2="394" stroke="#d4e244" stroke-width="1.4"/>
<line x1="54" y1="371" x2="49" y2="403" stroke="#d4e244" stroke-width="1.4"/>
<line x1="54" y1="371" x2="64" y2="386" stroke="#d4e244" stroke-width="1.4"/>
<line x1="60" y1="417" x2="32.8" y2="394" stroke="#d4e244" stroke-width="1.4"/>
<line x1="60" y1="417" x2="81" y2="394" stroke="#d4e244" stroke-width="1.4"/>
<line x1="60" y1="417" x2="49" y2="403" stroke="#d4e244" stroke-width="1.4"/>
<line x1="60" y1="417" x2="64" y2="386" stroke="#d4e244" stroke-width="1.4"/>
<line x1="32.8" y1="394" x2="49" y2="403" stroke="#d4e244" stroke-width="1.4"/>
<line x1="49" y1="403" x2="81" y2="394" stroke="#d4e244" stroke-width="1.4"/>
<line x1="81" y1="394" x2="64" y2="386" stroke="#d4e244" stroke-width="1.4"/>
<line x1="32.8" y1="394" x2="64" y2="386" stroke="#d4e244" stroke-width="1.4"/>
<polygon points="76.1,407.3 73.3,412.1 67.7,412.1 64.9,407.3 67.7,402.5 73.3,402.5" fill="none" stroke="#d4e244" stroke-width="1.7"/>
<polygon points="73.6,407.3 72.0,410.0 69.0,410.0 67.4,407.3 69.0,404.6 72.0,404.6" fill="none" stroke="#d4e244" stroke-width="0.9"/>
<line x1="76.1" y1="407.3" x2="79.5" y2="408" stroke="#d4e244" stroke-width="1"/>
<circle cx="81" cy="408" r="1.2" fill="#2020c0"/>
<circle cx="54" cy="371" r="3.1" fill="#eea6ca" stroke="#6e2448" stroke-width="1.2"/>
<circle cx="53.3" cy="370.3" r="1.1" fill="#fbe2ee"/>
<circle cx="64" cy="386" r="3.1" fill="#eea6ca" stroke="#6e2448" stroke-width="1.2"/>
<circle cx="63.3" cy="385.3" r="1.1" fill="#fbe2ee"/>
<circle cx="32.8" cy="394" r="3.1" fill="#eea6ca" stroke="#6e2448" stroke-width="1.2"/>
<circle cx="32.099999999999994" cy="393.3" r="1.1" fill="#fbe2ee"/>
<circle cx="81" cy="394" r="3.1" fill="#eea6ca" stroke="#6e2448" stroke-width="1.2"/>
<circle cx="80.3" cy="393.3" r="1.1" fill="#fbe2ee"/>
<circle cx="49" cy="403" r="3.1" fill="#eea6ca" stroke="#6e2448" stroke-width="1.2"/>
<circle cx="48.3" cy="402.3" r="1.1" fill="#fbe2ee"/>
<circle cx="60" cy="417" r="3.1" fill="#eea6ca" stroke="#6e2448" stroke-width="1.2"/>
<circle cx="59.3" cy="416.3" r="1.1" fill="#fbe2ee"/>
<text x="55.5" y="428.3" style="font-family:'Liberation Serif',serif;font-weight:bold;font-size:4.25px" fill="#222" text-anchor="middle" >NH<tspan baseline-shift="-25%" style="font-size:70%">2</tspan>-MIL-125 + Cd(NO<tspan baseline-shift="-25%" style="font-size:70%">3</tspan>)<tspan baseline-shift="-25%" style="font-size:70%">2</tspan>·4H<tspan baseline-shift="-25%" style="font-size:70%">2</tspan>O</text>
<polygon points="90.9,406.3 117.5,406.3 117.5,405.3 120.7,407.6 117.5,409.90000000000003 117.5,408.90000000000003 90.9,408.90000000000003" fill="#f4f4f4" stroke="#333" stroke-width="0.75"/>
<text x="107.8" y="404.4" style="font-family:'Liberation Serif',serif;font-weight:bold;font-size:4.6px" fill="#222" text-anchor="middle" >Stirred</text>
<text x="108.7" y="415" style="font-family:'Liberation Serif',serif;font-weight:bold;font-size:4.7px" fill="#222" text-anchor="middle" >60 min</text>
<polygon points="135.0,408.2 168.7,407.4 169.5,414.1 157.3,420.2 124.6,419.6 123.9,416.1" fill="#4858a8"/>
<polygon points="134.0,411.1 146.0,411.1 143.0,416.1 128.0,416.1" fill="#3a488f"/>
<polygon points="148.0,410.9 166.0,410.6 164.0,415.6 145.5,416.1" fill="#3a488f"/>
<polygon points="168.7,407.4 169.5,414.1 166.5,415.1 166.0,408.6" fill="#2a3470"/>
<polygon points="123.9,416.1 157.3,417.2 169.5,411.8 169.5,414.1 157.3,420.2 124.6,419.6" fill="#8b93c3"/>
<polygon points="136.5,405.4 169.5,405.0 169.0,407.6 135.5,408.2" fill="#dadee2"/>
<line x1="136" y1="408.0" x2="169" y2="407.5" stroke="#3d5052" stroke-width="1"/>
<rect x="144.7" y="393.99" width="12.8" height="10.009999999999991" fill="#e6e270"/>
<rect x="146.7" y="395.99" width="8.8" height="4.504499999999996" fill="#f4f2b8" opacity="0.8"/>
<path d="M144.2,385.8 L144.2,404.0 L158.0,404.0 L158.0,385.8" fill="none" stroke="#888" stroke-width="0.7"/>
<ellipse cx="151.1" cy="385.8" rx="7.7" ry="1.4" fill="none" stroke="#444" stroke-width="0.9"/>
<polygon points="153.5,378.8 162.5,368.2 164.8,370.2 155,379.6" fill="#eeeef6" stroke="#9a9ab8" stroke-width="0.5"/>
<line x1="162.8" y1="369.6" x2="165.8" y2="366.4" stroke="#1e2060" stroke-width="2.6"/>
<path d="M165.6,366.6 C166,363.5 168.5,362.5 169.5,364.5 C170,366 168,367.5 166.4,367.2" fill="#f4f4fa" stroke="#5a5e98" stroke-width="0.7"/>
<rect x="173.5" y="378.0" width="10.5" height="0.0" fill="#e6e270"/>
<rect x="175.5" y="380.0" width="6.5" height="0.0" fill="#f4f2b8" opacity="0.8"/>
<path d="M173,363 L173,378 L184.5,378 L184.5,363" fill="none" stroke="#888" stroke-width="0.7"/>
<ellipse cx="178.75" cy="363" rx="6.55" ry="1.4" fill="none" stroke="#444" stroke-width="0.9"/>
<text x="180" y="385.8" style="font-family:'Liberation Serif',serif;font-weight:bold;font-size:3.9px" fill="#222" text-anchor="middle" >Na<tspan baseline-shift="-25%" style="font-size:70%">2</tspan>S·9H<tspan baseline-shift="-25%" style="font-size:70%">2</tspan>O solution</text>
<polygon points="176.7,407.8 204.10000000000002,407.8 204.10000000000002,406.8 207.3,409.1 204.10000000000002,411.40000000000003 204.10000000000002,410.40000000000003 176.7,410.40000000000003" fill="#f4f4f4" stroke="#333" stroke-width="0.75"/>
<text x="191.1" y="405.5" style="font-family:'Liberation Serif',serif;font-weight:bold;font-size:4.65px" fill="#222" text-anchor="middle" >Refluxed</text>
<text x="190.7" y="416.4" style="font-family:'Liberation Serif',serif;font-weight:bold;font-size:4.8px" fill="#222" text-anchor="middle" >2 h</text>
<rect x="223.10000000000002" y="357.3" width="4.4" height="9" fill="#f6f6f6" stroke="#777" stroke-width="0.6"/>
<rect x="222.10000000000002" y="366.3" width="6.4" height="33.69999999999999" fill="#f4f4f4" stroke="#777" stroke-width="0.6"/>
<path d="M223.10000000000002,367.3 Q229.3,368.1 227.5,368.90000000000003 Q221.3,369.7 223.10000000000002,370.5 Q229.3,371.3 227.5,372.1 Q221.3,372.9 223.10000000000002,373.7 Q229.3,374.5 227.5,375.3 Q221.3,376.09999999999997 223.10000000000002,376.9 Q229.3,377.70000000000005 227.5,378.50000000000006 Q221.3,379.3 223.10000000000002,380.1 Q229.3,380.90000000000003 227.5,381.70000000000005 Q221.3,382.5 223.10000000000002,383.3 Q229.3,384.1 227.5,384.90000000000003 Q221.3,385.7 223.10000000000002,386.5 Q229.3,387.3 227.5,388.1 Q221.3,388.9 223.10000000000002,389.7 Q229.3,390.5 227.5,391.3 Q221.3,392.09999999999997 223.10000000000002,392.9 Q229.3,393.70000000000005 227.5,394.50000000000006 Q221.3,395.3 223.10000000000002,396.1" fill="none" stroke="#8a8a8a" stroke-width="0.5"/>
<rect x="222.9" y="400" width="4.8" height="9.399999999999977" fill="#f0f0f0" stroke="#777" stroke-width="0.5"/>
<rect x="222.70000000000002" y="400" width="5.2" height="1.6" fill="#333"/>
<clipPath id="fl2"><rect x="215.70000000000002" y="417.3" width="19.2" height="18.6"/></clipPath>
<ellipse cx="225.3" cy="417.2" rx="8.6" ry="9.3" fill="#f8f8f4" stroke="#8a8a8a" stroke-width="0.6"/>
<ellipse cx="225.3" cy="417.2" rx="8.2" ry="8.9" fill="#e8e4a4" clip-path="url(#fl2)"/>
<ellipse cx="225.3" cy="419.06" rx="4.73" ry="3.5340000000000003" fill="#f6f2d8" clip-path="url(#fl2)"/>
<circle cx="225.3" cy="418.1" r="1.0" fill="#555"/>
<path d="M232.3,369.1 C236.3,366.6 239.3,367.6 238.3,372.1" fill="none" stroke="#858585" stroke-width="2.3"/>
<ellipse cx="238.70000000000002" cy="377.1" rx="4.6" ry="3.1" transform="rotate(40 238.70000000000002 377.1)" fill="none" stroke="#858585" stroke-width="2.3"/>
<path d="M232.3,393.5 C237.3,390.5 242.3,395.5 240.8,398.5 C239.3,400.5 236.3,399.5 235.3,398.0" fill="none" stroke="#858585" stroke-width="2.3"/>
<path d="M232.3,369.1 C236.3,366.6 239.3,367.6 238.3,372.1" fill="none" stroke="#e4e4e4" stroke-width="0.9"/>
<ellipse cx="238.70000000000002" cy="377.1" rx="4.6" ry="3.1" transform="rotate(40 238.70000000000002 377.1)" fill="none" stroke="#e4e4e4" stroke-width="0.9"/>
<path d="M232.3,393.5 C237.3,390.5 242.3,395.5 240.8,398.5 C239.3,400.5 236.3,399.5 235.3,398.0" fill="none" stroke="#e4e4e4" stroke-width="0.9"/>
<line x1="228.3" y1="369.1" x2="232.8" y2="369.1" stroke="#4a4a4a" stroke-width="1.7"/>
<line x1="228.3" y1="393.5" x2="232.8" y2="393.5" stroke="#4a4a4a" stroke-width="1.7"/>
<polygon points="238,406.59999999999997 264.6,406.59999999999997 264.6,405.59999999999997 267.8,407.9 264.6,410.2 264.6,409.2 238,409.2" fill="#f4f4f4" stroke="#333" stroke-width="0.75"/>
<text x="251.1" y="403.9" style="font-family:'Liberation Serif',serif;font-weight:bold;font-size:4.73px" fill="#222" text-anchor="middle" >Centrifuge</text>
<text x="251.1" y="413.7" style="font-family:'Liberation Serif',serif;font-weight:bold;font-size:4.8px" fill="#222" text-anchor="middle" >dry</text>
<ellipse cx="290.5" cy="401.7" rx="18.5" ry="16.650000000000002" fill="#e2ddca"/>
<ellipse cx="290.5" cy="401.7" rx="17.205000000000002" ry="15.54" fill="#e8e4d2"/>
<rect x="276.5" y="392.7" width="9" height="16" fill="#f2d0c0" opacity="0.7"/>
<path d="M279.5,397.7 L292.5,393.7 L302.5,397.7 L303.5,407.7 L295.5,414.7 L286.5,414.7 L280.5,407.7 Z" fill="#f0b428"/>
<path d="M279.5,400.7 L293.5,400.7 L294.5,408.7 L281.5,408.7 Z" fill="#ee9c1c"/>
<path d="M294.5,399.7 L302.5,399.7 L303.5,407.7 L295.5,408.7 Z" fill="#f4c838"/>
<path d="M288.5,407.7 L296.5,407.7 L295.5,414.7 L287.5,414.7 Z" fill="#f0a424"/>
<circle cx="292.5" cy="396.5" r="3.5" fill="#e8c030" stroke="#7a6a3a" stroke-width="0.7"/>
<line x1="294" y1="393" x2="303" y2="377" stroke="#9aa8c8" stroke-width="0.7" stroke-dasharray="1.5,1"/>
<line x1="295.5" y1="396" x2="309" y2="389" stroke="#9aa8c8" stroke-width="0.7" stroke-dasharray="1.5,1"/>
<text x="296.5" y="425.8" style="font-family:'Liberation Serif',serif;font-weight:bold;font-size:4.8px" fill="#222" text-anchor="middle" >CdS/NH<tspan baseline-shift="-25%" style="font-size:70%">2</tspan>-MIL-125</text>
<circle cx="334.5" cy="370" r="30" fill="#fefefe" stroke="#dcdce6" stroke-width="0.9"/>
<rect x="326.4" y="341.9" width="9.2" height="9.2" fill="#fde6f0"/>
<rect x="336.4" y="356.4" width="9.2" height="9.2" fill="#fde6f0"/>
<rect x="302.9" y="365.4" width="9.2" height="9.2" fill="#fde6f0"/>
<rect x="355.4" y="364.4" width="9.2" height="9.2" fill="#fde6f0"/>
<rect x="319.79999999999995" y="374.7" width="9.2" height="9.2" fill="#fde6f0"/>
<rect x="332.09999999999997" y="390.4" width="9.2" height="9.2" fill="#fde6f0"/>
<line x1="331" y1="346.5" x2="307.5" y2="370" stroke="#d4e244" stroke-width="1.4"/>
<line x1="331" y1="346.5" x2="360" y2="369" stroke="#d4e244" stroke-width="1.4"/>
<line x1="331" y1="346.5" x2="324.4" y2="379.3" stroke="#d4e244" stroke-width="1.4"/>
<line x1="331" y1="346.5" x2="341" y2="361" stroke="#d4e244" stroke-width="1.4"/>
<line x1="336.7" y1="395" x2="307.5" y2="370" stroke="#d4e244" stroke-width="1.4"/>
<line x1="336.7" y1="395" x2="360" y2="369" stroke="#d4e244" stroke-width="1.4"/>
<line x1="336.7" y1="395" x2="324.4" y2="379.3" stroke="#d4e244" stroke-width="1.4"/>
<line x1="336.7" y1="395" x2="341" y2="361" stroke="#d4e244" stroke-width="1.4"/>
<line x1="307.5" y1="370" x2="324.4" y2="379.3" stroke="#d4e244" stroke-width="1.4"/>
<line x1="324.4" y1="379.3" x2="360" y2="369" stroke="#d4e244" stroke-width="1.4"/>
<line x1="360" y1="369" x2="341" y2="361" stroke="#d4e244" stroke-width="1.4"/>
<line x1="307.5" y1="370" x2="341" y2="361" stroke="#d4e244" stroke-width="1.4"/>
<polygon points="352.2,383.0 349.9,387.1 345.1,387.1 342.8,383.0 345.1,378.9 349.9,378.9" fill="none" stroke="#d4e244" stroke-width="1.7"/>
<polygon points="350.1,383.0 348.8,385.2 346.2,385.2 344.9,383.0 346.2,380.8 348.8,380.8" fill="none" stroke="#d4e244" stroke-width="0.9"/>
<line x1="352.2" y1="383" x2="358.5" y2="385" stroke="#d4e244" stroke-width="1"/>
<circle cx="360" cy="385" r="1.2" fill="#2020c0"/>
<circle cx="334.6" cy="355" r="3.2" fill="#dca034" stroke="#a87018" stroke-width="0.6"/>
<circle cx="334.0" cy="354.4" r="1.6" fill="#f0cc70"/>
<circle cx="322.7" cy="359.5" r="3.2" fill="#dca034" stroke="#a87018" stroke-width="0.6"/>
<circle cx="322.09999999999997" cy="358.9" r="1.6" fill="#f0cc70"/>
<circle cx="350.3" cy="366.4" r="3.2" fill="#dca034" stroke="#a87018" stroke-width="0.6"/>
<circle cx="349.7" cy="365.79999999999995" r="1.6" fill="#f0cc70"/>
<circle cx="318.4" cy="370" r="3.2" fill="#dca034" stroke="#a87018" stroke-width="0.6"/>
<circle cx="317.79999999999995" cy="369.4" r="1.6" fill="#f0cc70"/>
<circle cx="332.4" cy="370" r="3.2" fill="#dca034" stroke="#a87018" stroke-width="0.6"/>
<circle cx="331.79999999999995" cy="369.4" r="1.6" fill="#f0cc70"/>
<circle cx="331" cy="346.5" r="3.1" fill="#eea6ca" stroke="#6e2448" stroke-width="1.2"/>
<circle cx="330.3" cy="345.8" r="1.1" fill="#fbe2ee"/>
<circle cx="341" cy="361" r="3.1" fill="#eea6ca" stroke="#6e2448" stroke-width="1.2"/>
<circle cx="340.3" cy="360.3" r="1.1" fill="#fbe2ee"/>
<circle cx="307.5" cy="370" r="3.1" fill="#eea6ca" stroke="#6e2448" stroke-width="1.2"/>
<circle cx="306.8" cy="369.3" r="1.1" fill="#fbe2ee"/>
<circle cx="360" cy="369" r="3.1" fill="#eea6ca" stroke="#6e2448" stroke-width="1.2"/>
<circle cx="359.3" cy="368.3" r="1.1" fill="#fbe2ee"/>
<circle cx="324.4" cy="379.3" r="3.1" fill="#eea6ca" stroke="#6e2448" stroke-width="1.2"/>
<circle cx="323.7" cy="378.6" r="1.1" fill="#fbe2ee"/>
<circle cx="336.7" cy="395" r="3.1" fill="#eea6ca" stroke="#6e2448" stroke-width="1.2"/>
<circle cx="336.0" cy="394.3" r="1.1" fill="#fbe2ee"/>
<rect x="328.3" y="407" width="26.9" height="8.6" fill="#fff" stroke="#c8c8d0" stroke-width="0.5"/>
<rect x="329" y="407.5" width="7" height="8" fill="#f8d8e4"/>
<ellipse cx="333.1" cy="411.6" rx="3.2" ry="3.8" fill="#f2d494" stroke="#d08c1c" stroke-width="1.1"/>
<text x="345.7" y="414.3" style="font-family:'Liberation Serif',serif;font-weight:bold;font-size:5.6px" fill="#222" text-anchor="middle" >= CdS</text>
<path d="M393.5,33.5 L396,32.5 L398.5,31.5 L401,32.5 L403,30 L405,26 L407.5,23 L410,21.5 L412.5,21 L415,18.5 L417.5,16.8 L420,17.2 L422.5,19.5 L425,23.5 L427,29 L429,37 L430.5,44 L431.5,50.5 L433,58 L435,66 L438,75 L441,83 L443.5,88.5 L445.5,91.4 L450,94.2 L456.4,97.7 L465,101 L474.5,103.2 L483,104.8 L492.7,105.9 L500,106.6 L510,107.2 L520,107.6 L530,107.8 L538.5,107.8" fill="none" stroke="#b04848" stroke-width="0.85"/>
<rect x="425.2" y="50.7" width="9.3" height="66.8" fill="#000"/>
<rect x="435.9" y="66.5" width="9.4" height="51.0" fill="#000"/>
<rect x="462" y="107.1" width="8.8" height="10.4" fill="#000"/>
<rect x="479.8" y="111.6" width="8.8" height="5.9" fill="#000"/>
<line x1="400" y1="50.8" x2="425" y2="50.8" stroke="#333" stroke-width="0.7"/>
<polygon points="401.5,49.3 398.5,50.8 401.5,52.3" fill="#333"/>
<line x1="422" y1="16.6" x2="446.5" y2="16.6" stroke="#b06060" stroke-width="0.7"/>
<polygon points="445,15.2 448.5,16.6 445,18" fill="#b06060"/>
<rect x="393.5" y="4.3" width="144.89999999999998" height="113.2" fill="none" stroke="#1a1a1a" stroke-width="1.1"/>
<line x1="393.5" y1="117.5" x2="395.0" y2="117.5" stroke="#222" stroke-width="0.6"/>
<text x="389.0" y="118.8" style="font-family:'Liberation Sans',sans-serif;font-weight:bold;font-size:3.7px" fill="#111" text-anchor="end" >0</text>
<line x1="393.5" y1="106.2" x2="395.0" y2="106.2" stroke="#222" stroke-width="0.6"/>
<text x="389.0" y="107.47" style="font-family:'Liberation Sans',sans-serif;font-weight:bold;font-size:3.7px" fill="#111" text-anchor="end" >10</text>
<line x1="393.5" y1="94.8" x2="395.0" y2="94.8" stroke="#222" stroke-width="0.6"/>
<text x="389.0" y="96.14" style="font-family:'Liberation Sans',sans-serif;font-weight:bold;font-size:3.7px" fill="#111" text-anchor="end" >20</text>
<line x1="393.5" y1="83.5" x2="395.0" y2="83.5" stroke="#222" stroke-width="0.6"/>
<text x="389.0" y="84.80999999999999" style="font-family:'Liberation Sans',sans-serif;font-weight:bold;font-size:3.7px" fill="#111" text-anchor="end" >30</text>
<line x1="393.5" y1="72.2" x2="395.0" y2="72.2" stroke="#222" stroke-width="0.6"/>
<text x="389.0" y="73.48" style="font-family:'Liberation Sans',sans-serif;font-weight:bold;font-size:3.7px" fill="#111" text-anchor="end" >40</text>
<line x1="393.5" y1="60.9" x2="395.0" y2="60.9" stroke="#222" stroke-width="0.6"/>
<text x="389.0" y="62.15" style="font-family:'Liberation Sans',sans-serif;font-weight:bold;font-size:3.7px" fill="#111" text-anchor="end" >50</text>
<line x1="393.5" y1="49.5" x2="395.0" y2="49.5" stroke="#222" stroke-width="0.6"/>
<text x="389.0" y="50.81999999999999" style="font-family:'Liberation Sans',sans-serif;font-weight:bold;font-size:3.7px" fill="#111" text-anchor="end" >60</text>
<line x1="393.5" y1="38.2" x2="395.0" y2="38.2" stroke="#222" stroke-width="0.6"/>
<text x="389.0" y="39.489999999999995" style="font-family:'Liberation Sans',sans-serif;font-weight:bold;font-size:3.7px" fill="#111" text-anchor="end" >70</text>
<line x1="393.5" y1="26.9" x2="395.0" y2="26.9" stroke="#222" stroke-width="0.6"/>
<text x="389.0" y="28.16" style="font-family:'Liberation Sans',sans-serif;font-weight:bold;font-size:3.7px" fill="#111" text-anchor="end" >80</text>
<line x1="393.5" y1="15.5" x2="395.0" y2="15.5" stroke="#222" stroke-width="0.6"/>
<text x="389.0" y="16.830000000000002" style="font-family:'Liberation Sans',sans-serif;font-weight:bold;font-size:3.7px" fill="#111" text-anchor="end" >90</text>
<line x1="393.5" y1="4.2" x2="395.0" y2="4.2" stroke="#222" stroke-width="0.6"/>
<text x="389.0" y="5.500000000000003" style="font-family:'Liberation Sans',sans-serif;font-weight:bold;font-size:3.7px" fill="#111" text-anchor="end" >100</text>
<line x1="393.5" y1="117.5" x2="393.5" y2="116.0" stroke="#222" stroke-width="0.6"/>
<text x="393.5" y="123.9" style="font-family:'Liberation Sans',sans-serif;font-weight:bold;font-size:3.7px" fill="#111" text-anchor="middle" >300</text>
<line x1="429.6" y1="117.5" x2="429.6" y2="116.0" stroke="#222" stroke-width="0.6"/>
<text x="429.55" y="123.9" style="font-family:'Liberation Sans',sans-serif;font-weight:bold;font-size:3.7px" fill="#111" text-anchor="middle" >400</text>
<line x1="465.6" y1="117.5" x2="465.6" y2="116.0" stroke="#222" stroke-width="0.6"/>
<text x="465.6" y="123.9" style="font-family:'Liberation Sans',sans-serif;font-weight:bold;font-size:3.7px" fill="#111" text-anchor="middle" >500</text>
<line x1="501.6" y1="117.5" x2="501.6" y2="116.0" stroke="#222" stroke-width="0.6"/>
<text x="501.65" y="123.9" style="font-family:'Liberation Sans',sans-serif;font-weight:bold;font-size:3.7px" fill="#111" text-anchor="middle" >600</text>
<line x1="537.7" y1="117.5" x2="537.7" y2="116.0" stroke="#222" stroke-width="0.6"/>
<text x="537.7" y="123.9" style="font-family:'Liberation Sans',sans-serif;font-weight:bold;font-size:3.7px" fill="#111" text-anchor="middle" >700</text>
<line x1="411.5" y1="117.5" x2="411.5" y2="116.6" stroke="#222" stroke-width="0.5"/>
<line x1="447.6" y1="117.5" x2="447.6" y2="116.6" stroke="#222" stroke-width="0.5"/>
<line x1="483.6" y1="117.5" x2="483.6" y2="116.6" stroke="#222" stroke-width="0.5"/>
<line x1="519.7" y1="117.5" x2="519.7" y2="116.6" stroke="#222" stroke-width="0.5"/>
<text x="466.5" y="132.3" style="font-family:'Liberation Sans',sans-serif;font-weight:bold;font-size:5.2px" fill="#222" text-anchor="middle" >Wavelength (nm)</text>
<text transform="translate(378.9,64.5) rotate(-90)" style="font-family:'Liberation Sans',sans-serif;font-weight:bold;font-size:4.8px" fill="#222" text-anchor="middle">FUR conversion %</text>
<text transform="translate(546.4,63.3) rotate(-90)" style="font-family:'Liberation Sans',sans-serif;font-weight:bold;font-size:5.2px" fill="#222" text-anchor="middle">Absorbance</text>
<text x="514.3" y="27.8" style="font-family:'Liberation Sans',sans-serif;font-weight:bold;font-size:12.5px" fill="#000" text-anchor="start" >D</text>
<clipPath id="cf"><rect x="393.3" y="137" width="149" height="126.2"/></clipPath>
<path d="M393.3,258.3 L402.2,254.5 L411.2,249.6 L420.1,242.9 L427.6,233.3 L433.2,219.2 L441.0,203.5 L446.9,191.0 L458.0,164.2 L468.1,137.6 L473.8,123.6" fill="none" stroke="#c8b428" stroke-width="1.8" stroke-linejoin="round" clip-path="url(#cf)"/>
<circle cx="426.1" cy="235.2" r="1.9" fill="#e8e090" stroke="#c8b428" stroke-width="1" clip-path="url(#cf)"/>
<circle cx="433.2" cy="219.2" r="1.9" fill="#e8e090" stroke="#c8b428" stroke-width="1" clip-path="url(#cf)"/>
<circle cx="444.6" cy="196.7" r="1.9" fill="#e8e090" stroke="#c8b428" stroke-width="1" clip-path="url(#cf)"/>
<circle cx="458.0" cy="164.2" r="1.9" fill="#e8e090" stroke="#c8b428" stroke-width="1" clip-path="url(#cf)"/>
<path d="M393.3,258.3 L402.2,254.5 L411.2,250.1 L420.1,243.9 L429.1,233.3 L436.5,218.9 L446.9,196.7 L454.4,178.5 L462.7,162.6 L471.4,140.0 L478.2,123.6" fill="none" stroke="#2e9a2a" stroke-width="1.8" stroke-linejoin="round" clip-path="url(#cf)"/>
<circle cx="436.5" cy="218.9" r="1.9" fill="#a8d890" stroke="#2e9a2a" stroke-width="1" clip-path="url(#cf)"/>
<circle cx="446.9" cy="196.7" r="1.9" fill="#a8d890" stroke="#2e9a2a" stroke-width="1" clip-path="url(#cf)"/>
<circle cx="462.7" cy="162.6" r="1.9" fill="#a8d890" stroke="#2e9a2a" stroke-width="1" clip-path="url(#cf)"/>
<path d="M393.3,258.3 L402.2,250.6 L409.7,242.9 L415.1,236.2 L421.0,225.1 L429.1,207.3 L441.0,176.5 L454.1,137.6 L458.9,123.6" fill="none" stroke="#b878f0" stroke-width="1.8" stroke-linejoin="round" clip-path="url(#cf)"/>
<circle cx="409.7" cy="242.9" r="1.9" fill="#e8d0fc" stroke="#b878f0" stroke-width="1" clip-path="url(#cf)"/>
<circle cx="415.1" cy="236.2" r="1.9" fill="#e8d0fc" stroke="#b878f0" stroke-width="1" clip-path="url(#cf)"/>
<circle cx="421.0" cy="225.1" r="1.9" fill="#e8d0fc" stroke="#b878f0" stroke-width="1" clip-path="url(#cf)"/>
<circle cx="429.1" cy="207.3" r="1.9" fill="#e8d0fc" stroke="#b878f0" stroke-width="1" clip-path="url(#cf)"/>
<circle cx="441.0" cy="176.5" r="1.9" fill="#e8d0fc" stroke="#b878f0" stroke-width="1" clip-path="url(#cf)"/>
<path d="M393.3,258.3 L402.2,253.5 L411.2,248.7 L420.1,241.9 L430.3,231.1 L441.3,223.7 L455.3,214.0 L472.3,200.1 L491.6,177.5 L506.5,158.3 L518.5,140.0 L525.9,127.5" fill="none" stroke="#b8501c" stroke-width="1.8" stroke-linejoin="round" clip-path="url(#cf)"/>
<circle cx="411.2" cy="248.7" r="1.9" fill="#e8a070" stroke="#b8501c" stroke-width="1" clip-path="url(#cf)"/>
<circle cx="420.1" cy="241.9" r="1.9" fill="#e8a070" stroke="#b8501c" stroke-width="1" clip-path="url(#cf)"/>
<circle cx="430.3" cy="231.1" r="1.9" fill="#e8a070" stroke="#b8501c" stroke-width="1" clip-path="url(#cf)"/>
<circle cx="441.3" cy="223.7" r="1.9" fill="#e8a070" stroke="#b8501c" stroke-width="1" clip-path="url(#cf)"/>
<circle cx="455.3" cy="214.0" r="1.9" fill="#e8a070" stroke="#b8501c" stroke-width="1" clip-path="url(#cf)"/>
<circle cx="472.3" cy="200.1" r="1.9" fill="#e8a070" stroke="#b8501c" stroke-width="1" clip-path="url(#cf)"/>
<circle cx="491.6" cy="177.5" r="1.9" fill="#e8a070" stroke="#b8501c" stroke-width="1" clip-path="url(#cf)"/>
<circle cx="518.5" cy="140.0" r="1.9" fill="#e8a070" stroke="#b8501c" stroke-width="1" clip-path="url(#cf)"/>
<path d="M393.3,258.3 L399.3,251.6 L403.7,245.8 L406.7,240.6 L410.0,231.4 L415.7,214.0 L424.0,187.4 L438.3,140.3 L442.5,126.5" fill="none" stroke="#111111" stroke-width="1.8" stroke-linejoin="round" clip-path="url(#cf)"/>
<circle cx="403.7" cy="245.8" r="1.9" fill="#888888" stroke="#111111" stroke-width="1" clip-path="url(#cf)"/>
<circle cx="406.7" cy="240.6" r="1.9" fill="#888888" stroke="#111111" stroke-width="1" clip-path="url(#cf)"/>
<circle cx="410.0" cy="231.4" r="1.9" fill="#888888" stroke="#111111" stroke-width="1" clip-path="url(#cf)"/>
<circle cx="415.7" cy="214.0" r="1.9" fill="#888888" stroke="#111111" stroke-width="1" clip-path="url(#cf)"/>
<circle cx="424.0" cy="187.4" r="1.9" fill="#888888" stroke="#111111" stroke-width="1" clip-path="url(#cf)"/>
<circle cx="438.3" cy="140.3" r="1.9" fill="#888888" stroke="#111111" stroke-width="1" clip-path="url(#cf)"/>
<rect x="393.3" y="137" width="149" height="126.2" fill="none" stroke="#555" stroke-width="0.8"/>
<line x1="393.3" y1="258.3" x2="391.5" y2="258.3" stroke="#444" stroke-width="0.7"/>
<text x="388.90000000000003" y="260.6" style="font-family:'Liberation Sans',sans-serif;font-size:6.3px" fill="#333" text-anchor="end" >0</text>
<line x1="393.3" y1="210.2" x2="391.5" y2="210.2" stroke="#444" stroke-width="0.7"/>
<text x="388.90000000000003" y="212.50000000000003" style="font-family:'Liberation Sans',sans-serif;font-size:6.3px" fill="#333" text-anchor="end" >5</text>
<line x1="393.3" y1="162.1" x2="391.5" y2="162.1" stroke="#444" stroke-width="0.7"/>
<text x="388.90000000000003" y="164.40000000000003" style="font-family:'Liberation Sans',sans-serif;font-size:6.3px" fill="#333" text-anchor="end" >10</text>
<line x1="423.1" y1="263.2" x2="423.1" y2="265" stroke="#444" stroke-width="0.7"/>
<text x="423.1" y="272.8" style="font-family:'Liberation Sans',sans-serif;font-size:6.2px" fill="#333" text-anchor="middle" >1</text>
<line x1="452.9" y1="263.2" x2="452.9" y2="265" stroke="#444" stroke-width="0.7"/>
<text x="452.90000000000003" y="272.8" style="font-family:'Liberation Sans',sans-serif;font-size:6.2px" fill="#333" text-anchor="middle" >2</text>
<line x1="482.7" y1="263.2" x2="482.7" y2="265" stroke="#444" stroke-width="0.7"/>
<text x="482.70000000000005" y="272.8" style="font-family:'Liberation Sans',sans-serif;font-size:6.2px" fill="#333" text-anchor="middle" >3</text>
<line x1="512.5" y1="263.2" x2="512.5" y2="265" stroke="#444" stroke-width="0.7"/>
<text x="512.5" y="272.8" style="font-family:'Liberation Sans',sans-serif;font-size:6.2px" fill="#333" text-anchor="middle" >4</text>
<line x1="542.3" y1="263.2" x2="542.3" y2="265" stroke="#444" stroke-width="0.7"/>
<text x="542.3" y="272.8" style="font-family:'Liberation Sans',sans-serif;font-size:6.2px" fill="#333" text-anchor="middle" >5</text>
<text x="468.3" y="283.2" style="font-family:'Liberation Sans',sans-serif;font-weight:bold;font-size:9.2px" fill="#111" text-anchor="middle" >Z' ohm×10<tspan baseline-shift='super' style='font-size:70%'>3</tspan></text>
<text transform="translate(382.3,199) rotate(-90)" style="font-family:'Liberation Sans',sans-serif;font-weight:bold;font-size:7.8px" fill="#111" text-anchor="middle">-Z" ohm×10<tspan baseline-shift="super" style="font-size:70%">3</tspan></text>
<text x="400" y="157" style="font-family:'Liberation Sans',sans-serif;font-weight:bold;font-size:11.5px" fill="#000" text-anchor="start" >F</text>
<line x1="471.4" y1="205.4" x2="489" y2="205.4" stroke="#111" stroke-width="1.8"/>
<circle cx="480.1" cy="205.4" r="1.9" fill="#ddd" stroke="#111" stroke-width="1"/>
<text x="491.3" y="208.4" style="font-family:'Liberation Sans',sans-serif;font-weight:bold;font-size:8.3px" fill="#111" text-anchor="start" >Fe@C<tspan baseline-shift="-25%" style="font-size:70%">3</tspan>N<tspan baseline-shift="-25%" style="font-size:70%">5</tspan>-1</text>
<line x1="471.4" y1="217.8" x2="489" y2="217.8" stroke="#2c9a2c" stroke-width="1.8"/>
<circle cx="480.1" cy="217.8" r="1.9" fill="#ddd" stroke="#2c9a2c" stroke-width="1"/>
<text x="491.3" y="220.8" style="font-family:'Liberation Sans',sans-serif;font-weight:bold;font-size:8.3px" fill="#111" text-anchor="start" >Co@C<tspan baseline-shift="-25%" style="font-size:70%">3</tspan>N<tspan baseline-shift="-25%" style="font-size:70%">5</tspan>-1</text>
<line x1="471.4" y1="230" x2="489" y2="230" stroke="#c070f0" stroke-width="1.8"/>
<circle cx="480.1" cy="230" r="1.9" fill="#ddd" stroke="#c070f0" stroke-width="1"/>
<text x="491.3" y="233" style="font-family:'Liberation Sans',sans-serif;font-weight:bold;font-size:8.3px" fill="#111" text-anchor="start" >Ni@C<tspan baseline-shift="-25%" style="font-size:70%">3</tspan>N<tspan baseline-shift="-25%" style="font-size:70%">5</tspan>-1</text>
<line x1="471.4" y1="242.5" x2="489" y2="242.5" stroke="#c0501c" stroke-width="1.8"/>
<circle cx="480.1" cy="242.5" r="1.9" fill="#ddd" stroke="#c0501c" stroke-width="1"/>
<text x="491.3" y="245.5" style="font-family:'Liberation Sans',sans-serif;font-weight:bold;font-size:8.3px" fill="#111" text-anchor="start" >Cu<tspan baseline-shift="-25%" style="font-size:70%">1</tspan>@C<tspan baseline-shift="-25%" style="font-size:70%">3</tspan>N<tspan baseline-shift="-25%" style="font-size:70%">5</tspan>-1</text>
<line x1="471.4" y1="255.2" x2="489" y2="255.2" stroke="#c0b020" stroke-width="1.8"/>
<circle cx="480.1" cy="255.2" r="1.9" fill="#ddd" stroke="#c0b020" stroke-width="1"/>
<text x="491.3" y="258.2" style="font-family:'Liberation Sans',sans-serif;font-weight:bold;font-size:8.3px" fill="#111" text-anchor="start" >C<tspan baseline-shift="-25%" style="font-size:70%">3</tspan>N<tspan baseline-shift="-25%" style="font-size:70%">5</tspan></text>
<clipPath id="cg"><rect x="392.4" y="290.4" width="151.9" height="122.6"/></clipPath>
<path d="M389.6,399.2 L390.1,400.6 L390.7,400.1 L391.3,402.4 L391.9,401.8 L392.5,402.8 L393.1,404.2 L393.7,403.4 L394.2,405.1 L394.8,404.4 L395.4,405.8 L396.0,406.0 L396.6,405.3 L397.2,404.5 L397.8,406.6 L398.3,406.5 L398.9,405.6 L399.5,404.9 L400.1,406.0 L400.7,406.7 L401.3,405.2 L401.8,407.8 L402.4,405.7 L403.0,407.3 L403.6,407.8 L404.2,407.9 L404.8,389.7 L405.4,387.5 L405.9,388.6 L406.5,386.8 L407.1,386.0 L407.7,386.2 L408.3,385.2 L408.9,386.0 L409.4,385.6 L410.0,384.8 L410.6,383.1 L411.2,383.5 L411.8,383.5 L412.4,382.4 L413.0,382.5 L413.5,382.7 L414.1,381.1 L414.7,381.1 L415.3,382.2 L415.9,381.1 L416.5,381.1 L417.1,380.0 L417.6,380.2 L418.2,381.3 L418.8,379.3 L419.4,381.6 L420.0,380.7 L420.6,379.6 L421.2,381.2 L421.7,380.2 L422.3,381.4 L422.9,379.6 L423.5,379.3 L424.1,379.7 L424.7,378.8 L425.2,380.4 L425.8,379.3 L426.4,379.5 L427.0,379.5 L427.6,379.8 L428.2,393.2 L428.8,394.6 L429.3,397.3 L429.9,398.0 L430.5,400.7 L431.1,399.8 L431.7,400.7 L432.3,400.3 L432.9,401.4 L433.4,403.3 L434.0,403.5 L434.6,403.1 L435.2,405.2 L435.8,404.3 L436.4,405.3 L436.9,405.7 L437.5,406.1 L438.1,404.3 L438.7,406.2 L439.3,406.0 L439.9,405.8 L440.5,404.6 L441.0,406.9 L441.6,405.9 L442.2,405.8 L442.8,404.9 L443.4,405.2 L444.0,405.1 L444.6,406.8 L445.1,406.5 L445.7,406.7 L446.3,405.3 L446.9,405.1 L447.5,407.4 L448.1,407.4 L448.6,407.3 L449.2,407.3 L449.8,406.6 L450.4,406.4 L451.0,407.3 L451.6,390.6 L452.2,388.6 L452.7,388.0 L453.3,386.8 L453.9,385.1 L454.5,385.3 L455.1,385.3 L455.7,384.5 L456.2,383.9 L456.8,385.2 L457.4,382.5 L458.0,382.5 L458.6,381.9 L459.2,381.8 L459.8,382.7 L460.3,382.4 L460.9,383.0 L461.5,381.3 L462.1,382.7 L462.7,382.5 L463.3,382.0 L463.9,382.0 L464.4,381.3 L465.0,382.0 L465.6,382.0 L466.2,381.5 L466.8,381.5 L467.4,380.7 L467.9,381.6 L468.5,379.1 L469.1,379.8 L469.7,381.0 L470.3,380.7 L470.9,380.4 L471.5,380.3 L472.0,380.9 L472.6,378.8 L473.2,378.4 L473.8,379.8 L474.4,379.7 L475.0,395.3 L475.6,396.9 L476.1,397.7 L476.7,399.1 L477.3,398.5 L477.9,401.3 L478.5,402.4 L479.1,400.5 L479.6,402.2 L480.2,403.7 L480.8,403.1 L481.4,404.9 L482.0,403.8 L482.6,402.8 L483.2,403.4 L483.7,404.1 L484.3,405.5 L484.9,405.4 L485.5,406.1 L486.1,404.6 L486.7,405.4 L487.3,404.8 L487.8,406.2 L488.4,406.6 L489.0,405.0 L489.6,404.6 L490.2,405.1 L490.8,405.3 L491.4,405.3 L491.9,405.6 L492.5,407.1 L493.1,406.3 L493.7,406.8 L494.3,407.8 L494.9,407.8 L495.4,407.1 L496.0,407.2 L496.6,406.1 L497.2,405.4 L497.8,406.8 L498.4,388.0 L499.0,387.1 L499.5,386.4 L500.1,387.4 L500.7,387.2 L501.3,386.6 L501.9,386.1 L502.5,385.6 L503.1,384.0 L503.6,382.9 L504.2,382.7 L504.8,383.3 L505.4,382.5 L506.0,381.8 L506.6,383.5 L507.1,381.7 L507.7,380.8 L508.3,380.9 L508.9,380.8 L509.5,381.4 L510.1,382.1 L510.7,380.2 L511.2,381.3 L511.8,379.9 L512.4,379.3 L513.0,380.8 L513.6,380.7 L514.2,379.1 L514.8,379.6 L515.3,381.1 L515.9,381.1 L516.5,381.0 L517.1,378.9 L517.7,379.1 L518.3,380.9 L518.8,378.9 L519.4,378.5 L520.0,379.3 L520.6,380.1 L521.2,379.5 L521.8,395.2 L522.4,397.2 L522.9,395.9 L523.5,398.0 L524.1,399.4 L524.7,399.1 L525.3,401.2 L525.9,400.7 L526.5,401.4 L527.0,403.6 L527.6,403.9 L528.2,404.1 L528.8,404.6 L529.4,403.9 L530.0,405.1 L530.5,404.9 L531.1,405.9 L531.7,403.9 L532.3,405.6 L532.9,405.5 L533.5,405.2 L534.1,404.5 L534.6,405.9 L535.2,404.6 L535.8,405.9 L536.4,405.9 L537.0,406.0 L537.6,407.5 L538.1,406.4 L538.7,407.1 L539.3,407.7 L539.9,405.5 L540.5,407.3 L541.1,406.5 L541.7,405.9 L542.2,406.4 L542.8,407.0 L543.4,406.5 L544.0,406.5 L544.6,405.9 L545.2,407.8 L545.8,406.5 L546.3,407.4 L546.9,407.4 L547.5,406.0" fill="none" stroke="#2a9060" stroke-width="1.25" clip-path="url(#cg)" stroke-linejoin="round"/>
<path d="M389.6,398.7 L390.1,399.5 L390.7,400.0 L391.3,400.4 L391.9,402.0 L392.5,402.2 L393.1,403.0 L393.7,403.4 L394.2,403.5 L394.8,404.3 L395.4,404.5 L396.0,404.9 L396.6,404.3 L397.2,405.0 L397.8,404.8 L398.3,404.9 L398.9,406.4 L399.5,406.0 L400.1,405.4 L400.7,405.7 L401.3,407.2 L401.8,407.3 L402.4,406.8 L403.0,407.6 L403.6,407.3 L404.2,407.7 L404.8,376.0 L405.4,375.3 L405.9,374.6 L406.5,375.7 L407.1,374.2 L407.7,374.0 L408.3,374.7 L408.9,372.9 L409.4,372.5 L410.0,373.8 L410.6,372.1 L411.2,373.0 L411.8,372.6 L412.4,371.4 L413.0,371.6 L413.5,372.8 L414.1,372.1 L414.7,371.8 L415.3,372.0 L415.9,372.2 L416.5,371.9 L417.1,371.0 L417.6,372.3 L418.2,371.2 L418.8,371.3 L419.4,372.1 L420.0,371.4 L420.6,370.8 L421.2,370.9 L421.7,371.8 L422.3,369.9 L422.9,370.3 L423.5,369.9 L424.1,371.6 L424.7,371.2 L425.2,371.6 L425.8,370.1 L426.4,371.1 L427.0,371.4 L427.6,370.8 L428.2,387.5 L428.8,390.4 L429.3,393.8 L429.9,395.9 L430.5,396.0 L431.1,398.0 L431.7,398.9 L432.3,401.1 L432.9,402.0 L433.4,401.4 L434.0,402.5 L434.6,403.7 L435.2,402.5 L435.8,403.5 L436.4,403.5 L436.9,405.2 L437.5,403.9 L438.1,405.7 L438.7,404.3 L439.3,405.3 L439.9,405.7 L440.5,405.4 L441.0,404.8 L441.6,406.2 L442.2,406.6 L442.8,405.9 L443.4,406.5 L444.0,406.9 L444.6,406.8 L445.1,407.1 L445.7,406.9 L446.3,406.7 L446.9,406.8 L447.5,405.9 L448.1,406.9 L448.6,406.5 L449.2,407.2 L449.8,406.9 L450.4,407.6 L451.0,407.1 L451.6,377.3 L452.2,375.4 L452.7,375.3 L453.3,375.6 L453.9,374.7 L454.5,373.4 L455.1,374.8 L455.7,373.1 L456.2,373.6 L456.8,373.2 L457.4,372.3 L458.0,373.0 L458.6,372.6 L459.2,372.0 L459.8,371.3 L460.3,372.4 L460.9,371.3 L461.5,371.4 L462.1,371.4 L462.7,371.8 L463.3,371.8 L463.9,372.3 L464.4,372.1 L465.0,372.1 L465.6,370.7 L466.2,371.6 L466.8,371.7 L467.4,371.8 L467.9,370.3 L468.5,370.2 L469.1,370.5 L469.7,371.3 L470.3,371.3 L470.9,371.2 L471.5,370.8 L472.0,371.4 L472.6,370.8 L473.2,371.1 L473.8,369.7 L474.4,369.7 L475.0,388.3 L475.6,391.6 L476.1,392.4 L476.7,395.6 L477.3,397.1 L477.9,399.2 L478.5,399.6 L479.1,400.3 L479.6,401.1 L480.2,402.4 L480.8,402.4 L481.4,403.9 L482.0,403.8 L482.6,404.5 L483.2,404.3 L483.7,405.3 L484.3,405.6 L484.9,405.2 L485.5,405.6 L486.1,405.0 L486.7,405.3 L487.3,405.0 L487.8,405.3 L488.4,405.3 L489.0,405.1 L489.6,406.2 L490.2,406.4 L490.8,405.1 L491.4,406.9 L491.9,405.8 L492.5,406.0 L493.1,407.2 L493.7,405.7 L494.3,405.7 L494.9,406.2 L495.4,406.1 L496.0,405.9 L496.6,407.3 L497.2,406.6 L497.8,406.6 L498.4,375.7 L499.0,375.3 L499.5,374.8 L500.1,374.8 L500.7,373.9 L501.3,373.9 L501.9,373.6 L502.5,374.2 L503.1,374.4 L503.6,373.9 L504.2,373.2 L504.8,373.5 L505.4,371.9 L506.0,372.3 L506.6,372.0 L507.1,371.8 L507.7,371.6 L508.3,371.9 L508.9,372.7 L509.5,371.0 L510.1,371.0 L510.7,371.4 L511.2,371.3 L511.8,370.9 L512.4,372.1 L513.0,370.7 L513.6,371.6 L514.2,371.9 L514.8,371.4 L515.3,370.5 L515.9,371.5 L516.5,370.4 L517.1,369.9 L517.7,370.8 L518.3,371.0 L518.8,370.8 L519.4,370.3 L520.0,370.1 L520.6,370.4 L521.2,370.3 L521.8,389.2 L522.4,391.8 L522.9,393.8 L523.5,394.8 L524.1,397.2 L524.7,398.0 L525.3,400.3 L525.9,401.2 L526.5,401.6 L527.0,401.5 L527.6,402.0 L528.2,402.6 L528.8,403.8 L529.4,403.7 L530.0,404.1 L530.5,404.4 L531.1,405.4 L531.7,404.1 L532.3,405.6 L532.9,404.3 L533.5,404.5 L534.1,406.5 L534.6,405.7 L535.2,405.1 L535.8,404.9 L536.4,406.0 L537.0,406.5 L537.6,406.7 L538.1,405.3 L538.7,406.8 L539.3,406.1 L539.9,407.1 L540.5,406.3 L541.1,405.5 L541.7,407.2 L542.2,405.9 L542.8,406.5 L543.4,405.8 L544.0,406.2 L544.6,407.2 L545.2,405.9 L545.8,406.7 L546.3,407.7 L546.9,407.7 L547.5,406.8" fill="none" stroke="#b07ef0" stroke-width="1.25" clip-path="url(#cg)" stroke-linejoin="round"/>
<path d="M389.6,398.9 L390.1,400.1 L390.7,401.3 L391.3,401.6 L391.9,402.3 L392.5,401.6 L393.1,404.2 L393.7,402.8 L394.2,403.1 L394.8,405.1 L395.4,403.6 L396.0,404.4 L396.6,404.2 L397.2,405.9 L397.8,405.9 L398.3,406.0 L398.9,404.8 L399.5,405.9 L400.1,406.6 L400.7,406.5 L401.3,407.0 L401.8,407.7 L402.4,407.6 L403.0,405.9 L403.6,407.3 L404.2,405.8 L404.8,375.9 L405.4,374.9 L405.9,373.3 L406.5,373.2 L407.1,372.0 L407.7,369.9 L408.3,369.4 L408.9,368.9 L409.4,368.8 L410.0,367.6 L410.6,367.0 L411.2,367.5 L411.8,366.7 L412.4,367.9 L413.0,365.9 L413.5,366.3 L414.1,365.3 L414.7,365.2 L415.3,365.8 L415.9,366.2 L416.5,363.9 L417.1,365.6 L417.6,364.6 L418.2,364.7 L418.8,364.7 L419.4,363.5 L420.0,362.8 L420.6,364.4 L421.2,363.3 L421.7,364.1 L422.3,363.4 L422.9,363.7 L423.5,364.2 L424.1,364.1 L424.7,363.9 L425.2,362.2 L425.8,363.1 L426.4,363.7 L427.0,362.0 L427.6,361.8 L428.2,388.0 L428.8,391.6 L429.3,393.8 L429.9,396.0 L430.5,397.0 L431.1,399.0 L431.7,399.8 L432.3,400.7 L432.9,400.8 L433.4,400.8 L434.0,401.7 L434.6,403.1 L435.2,403.5 L435.8,403.6 L436.4,404.3 L436.9,404.7 L437.5,405.6 L438.1,405.3 L438.7,403.9 L439.3,406.1 L439.9,405.3 L440.5,405.2 L441.0,404.8 L441.6,406.4 L442.2,406.4 L442.8,406.5 L443.4,406.3 L444.0,406.2 L444.6,405.1 L445.1,405.4 L445.7,405.4 L446.3,407.5 L446.9,407.5 L447.5,405.9 L448.1,405.5 L448.6,406.6 L449.2,406.3 L449.8,407.8 L450.4,406.9 L451.0,405.6 L451.6,374.6 L452.2,373.5 L452.7,372.2 L453.3,373.1 L453.9,372.6 L454.5,371.8 L455.1,370.2 L455.7,369.2 L456.2,368.0 L456.8,368.0 L457.4,367.7 L458.0,367.0 L458.6,367.3 L459.2,366.7 L459.8,367.6 L460.3,365.5 L460.9,366.5 L461.5,364.6 L462.1,365.0 L462.7,365.6 L463.3,365.8 L463.9,365.3 L464.4,364.2 L465.0,363.9 L465.6,365.1 L466.2,365.1 L466.8,363.9 L467.4,363.6 L467.9,364.0 L468.5,364.3 L469.1,363.3 L469.7,364.6 L470.3,363.8 L470.9,363.4 L471.5,362.1 L472.0,362.8 L472.6,362.2 L473.2,363.1 L473.8,363.6 L474.4,363.6 L475.0,386.8 L475.6,390.2 L476.1,393.5 L476.7,396.1 L477.3,396.6 L477.9,397.6 L478.5,399.4 L479.1,400.7 L479.6,400.6 L480.2,400.7 L480.8,403.0 L481.4,404.0 L482.0,403.7 L482.6,403.9 L483.2,403.6 L483.7,405.0 L484.3,403.9 L484.9,404.2 L485.5,405.0 L486.1,405.9 L486.7,404.2 L487.3,405.9 L487.8,404.9 L488.4,406.4 L489.0,406.5 L489.6,405.3 L490.2,406.5 L490.8,405.0 L491.4,406.2 L491.9,407.0 L492.5,406.9 L493.1,406.5 L493.7,406.0 L494.3,405.4 L494.9,407.3 L495.4,406.8 L496.0,407.2 L496.6,405.5 L497.2,407.5 L497.8,407.7 L498.4,376.4 L499.0,374.6 L499.5,372.4 L500.1,371.6 L500.7,371.1 L501.3,369.8 L501.9,369.3 L502.5,370.1 L503.1,369.8 L503.6,367.5 L504.2,367.5 L504.8,368.7 L505.4,366.8 L506.0,367.1 L506.6,366.8 L507.1,366.6 L507.7,366.6 L508.3,366.8 L508.9,365.9 L509.5,365.5 L510.1,363.8 L510.7,365.6 L511.2,363.4 L511.8,365.1 L512.4,364.6 L513.0,363.3 L513.6,363.2 L514.2,364.0 L514.8,364.8 L515.3,363.7 L515.9,363.8 L516.5,362.4 L517.1,364.1 L517.7,363.6 L518.3,362.3 L518.8,364.3 L519.4,363.3 L520.0,362.3 L520.6,362.4 L521.2,364.1 L521.8,389.0 L522.4,391.7 L522.9,392.0 L523.5,395.6 L524.1,396.1 L524.7,397.1 L525.3,399.6 L525.9,400.7 L526.5,399.9 L527.0,401.4 L527.6,402.9 L528.2,402.3 L528.8,403.7 L529.4,404.2 L530.0,405.2 L530.5,403.7 L531.1,403.6 L531.7,404.5 L532.3,404.0 L532.9,406.3 L533.5,406.0 L534.1,405.6 L534.6,404.5 L535.2,404.7 L535.8,406.1 L536.4,406.5 L537.0,406.2 L537.6,406.1 L538.1,405.2 L538.7,407.0 L539.3,405.6 L539.9,405.8 L540.5,405.6 L541.1,405.8 L541.7,406.2 L542.2,406.9 L542.8,407.0 L543.4,406.9 L544.0,405.9 L544.6,407.6 L545.2,407.4 L545.8,406.1 L546.3,407.3 L546.9,407.8 L547.5,407.9" fill="none" stroke="#2f3fd8" stroke-width="1.25" clip-path="url(#cg)" stroke-linejoin="round"/>
<path d="M389.6,398.6 L390.1,400.1 L390.7,399.3 L391.3,400.3 L391.9,400.7 L392.5,403.0 L393.1,404.0 L393.7,404.4 L394.2,403.9 L394.8,403.7 L395.4,404.7 L396.0,405.5 L396.6,405.3 L397.2,405.1 L397.8,405.2 L398.3,405.2 L398.9,405.1 L399.5,405.7 L400.1,407.1 L400.7,405.6 L401.3,407.0 L401.8,406.4 L402.4,407.0 L403.0,406.2 L403.6,407.5 L404.2,407.5 L404.8,374.0 L405.4,373.1 L405.9,370.3 L406.5,370.1 L407.1,369.8 L407.7,368.9 L408.3,366.7 L408.9,367.2 L409.4,367.3 L410.0,365.3 L410.6,365.2 L411.2,363.9 L411.8,365.5 L412.4,364.3 L413.0,363.1 L413.5,362.7 L414.1,362.2 L414.7,364.0 L415.3,363.1 L415.9,363.3 L416.5,362.9 L417.1,360.8 L417.6,361.5 L418.2,360.5 L418.8,361.7 L419.4,360.4 L420.0,361.2 L420.6,361.5 L421.2,360.2 L421.7,359.7 L422.3,361.6 L422.9,360.3 L423.5,360.2 L424.1,361.1 L424.7,360.6 L425.2,361.1 L425.8,360.9 L426.4,360.7 L427.0,359.8 L427.6,359.7 L428.2,387.7 L428.8,391.1 L429.3,392.7 L429.9,393.9 L430.5,396.8 L431.1,397.9 L431.7,399.3 L432.3,399.0 L432.9,400.4 L433.4,402.3 L434.0,402.8 L434.6,402.7 L435.2,402.7 L435.8,402.9 L436.4,404.6 L436.9,404.7 L437.5,403.7 L438.1,404.6 L438.7,405.1 L439.3,405.2 L439.9,403.9 L440.5,405.5 L441.0,405.1 L441.6,405.7 L442.2,405.6 L442.8,404.7 L443.4,404.4 L444.0,406.0 L444.6,406.5 L445.1,405.3 L445.7,406.6 L446.3,407.1 L446.9,405.0 L447.5,406.2 L448.1,405.3 L448.6,406.3 L449.2,405.3 L449.8,406.3 L450.4,407.0 L451.0,407.4 L451.6,373.2 L452.2,371.9 L452.7,370.3 L453.3,371.3 L453.9,369.1 L454.5,368.9 L455.1,367.9 L455.7,368.1 L456.2,367.1 L456.8,366.0 L457.4,364.5 L458.0,366.0 L458.6,364.6 L459.2,363.5 L459.8,362.7 L460.3,364.2 L460.9,364.0 L461.5,361.8 L462.1,361.5 L462.7,362.4 L463.3,363.2 L463.9,360.9 L464.4,362.0 L465.0,360.6 L465.6,361.1 L466.2,360.5 L466.8,361.9 L467.4,360.3 L467.9,361.5 L468.5,361.0 L469.1,359.8 L469.7,359.8 L470.3,361.2 L470.9,361.1 L471.5,360.6 L472.0,360.2 L472.6,360.5 L473.2,361.0 L473.8,360.7 L474.4,359.5 L475.0,386.1 L475.6,391.0 L476.1,392.2 L476.7,393.7 L477.3,397.1 L477.9,396.6 L478.5,399.5 L479.1,399.4 L479.6,400.4 L480.2,400.9 L480.8,402.3 L481.4,402.6 L482.0,402.7 L482.6,403.4 L483.2,403.2 L483.7,404.0 L484.3,404.3 L484.9,405.5 L485.5,404.3 L486.1,404.8 L486.7,405.6 L487.3,404.5 L487.8,404.6 L488.4,405.4 L489.0,406.2 L489.6,405.6 L490.2,406.6 L490.8,406.6 L491.4,405.9 L491.9,406.8 L492.5,406.0 L493.1,405.9 L493.7,407.1 L494.3,405.7 L494.9,407.1 L495.4,405.6 L496.0,405.5 L496.6,406.2 L497.2,407.3 L497.8,406.2 L498.4,373.7 L499.0,371.2 L499.5,372.1 L500.1,369.4 L500.7,368.3 L501.3,368.1 L501.9,367.2 L502.5,368.0 L503.1,365.5 L503.6,366.1 L504.2,364.4 L504.8,364.1 L505.4,365.4 L506.0,363.5 L506.6,362.8 L507.1,364.5 L507.7,363.5 L508.3,362.3 L508.9,363.4 L509.5,361.4 L510.1,362.7 L510.7,361.2 L511.2,362.6 L511.8,361.5 L512.4,360.4 L513.0,361.9 L513.6,361.7 L514.2,360.9 L514.8,361.3 L515.3,361.8 L515.9,361.4 L516.5,361.4 L517.1,359.4 L517.7,360.0 L518.3,359.4 L518.8,361.0 L519.4,359.5 L520.0,361.0 L520.6,360.0 L521.2,359.7 L521.8,387.4 L522.4,389.0 L522.9,392.2 L523.5,394.1 L524.1,395.1 L524.7,398.4 L525.3,397.5 L525.9,399.3 L526.5,400.8 L527.0,400.5 L527.6,402.4 L528.2,401.2 L528.8,402.7 L529.4,403.6 L530.0,403.0 L530.5,404.0 L531.1,404.9 L531.7,403.8 L532.3,405.7 L532.9,404.0 L533.5,405.5 L534.1,404.8 L534.6,404.1 L535.2,405.1 L535.8,405.1 L536.4,406.0 L537.0,406.8 L537.6,406.8 L538.1,406.6 L538.7,405.6 L539.3,406.1 L539.9,405.9 L540.5,405.1 L541.1,406.9 L541.7,406.7 L542.2,405.8 L542.8,407.3 L543.4,407.4 L544.0,406.6 L544.6,407.2 L545.2,406.6 L545.8,407.0 L546.3,406.1 L546.9,406.1 L547.5,407.1" fill="none" stroke="#333" stroke-width="1.25" clip-path="url(#cg)" stroke-linejoin="round"/>
<path d="M389.6,398.5 L390.1,399.7 L390.7,401.4 L391.3,400.2 L391.9,402.5 L392.5,403.3 L393.1,403.9 L393.7,403.1 L394.2,403.0 L394.8,403.6 L395.4,404.8 L396.0,405.4 L396.6,406.3 L397.2,405.0 L397.8,405.4 L398.3,406.1 L398.9,405.6 L399.5,406.2 L400.1,405.2 L400.7,405.8 L401.3,407.1 L401.8,405.6 L402.4,407.7 L403.0,406.7 L403.6,407.0 L404.2,407.5 L404.8,373.4 L405.4,370.6 L405.9,371.4 L406.5,369.2 L407.1,367.4 L407.7,368.5 L408.3,367.6 L408.9,366.0 L409.4,365.6 L410.0,364.7 L410.6,363.8 L411.2,364.8 L411.8,364.1 L412.4,363.7 L413.0,363.9 L413.5,361.6 L414.1,361.5 L414.7,361.4 L415.3,362.8 L415.9,360.5 L416.5,360.5 L417.1,361.0 L417.6,360.2 L418.2,360.7 L418.8,361.0 L419.4,361.2 L420.0,360.7 L420.6,361.1 L421.2,360.2 L421.7,359.2 L422.3,359.2 L422.9,358.7 L423.5,359.0 L424.1,360.0 L424.7,359.2 L425.2,359.4 L425.8,358.5 L426.4,359.1 L427.0,359.7 L427.6,358.7 L428.2,385.5 L428.8,390.2 L429.3,391.1 L429.9,395.2 L430.5,396.4 L431.1,397.9 L431.7,397.9 L432.3,398.5 L432.9,399.8 L433.4,401.6 L434.0,400.9 L434.6,402.8 L435.2,403.4 L435.8,402.3 L436.4,403.3 L436.9,403.4 L437.5,403.8 L438.1,403.3 L438.7,404.7 L439.3,404.0 L439.9,404.5 L440.5,404.2 L441.0,405.4 L441.6,404.8 L442.2,405.3 L442.8,406.0 L443.4,406.3 L444.0,405.4 L444.6,406.8 L445.1,404.9 L445.7,406.7 L446.3,407.1 L446.9,406.9 L447.5,405.0 L448.1,406.5 L448.6,407.0 L449.2,407.3 L449.8,407.3 L450.4,405.8 L451.0,405.9 L451.6,371.9 L452.2,370.7 L452.7,371.3 L453.3,369.1 L453.9,368.8 L454.5,366.9 L455.1,366.2 L455.7,365.3 L456.2,366.7 L456.8,364.2 L457.4,363.5 L458.0,363.0 L458.6,364.5 L459.2,363.9 L459.8,363.7 L460.3,363.6 L460.9,361.3 L461.5,361.1 L462.1,361.3 L462.7,360.6 L463.3,360.8 L463.9,361.4 L464.4,361.7 L465.0,361.5 L465.6,359.8 L466.2,360.9 L466.8,360.5 L467.4,360.2 L467.9,361.0 L468.5,360.3 L469.1,360.2 L469.7,359.0 L470.3,359.8 L470.9,359.8 L471.5,358.2 L472.0,359.3 L472.6,358.4 L473.2,358.9 L473.8,360.2 L474.4,359.3 L475.0,386.7 L475.6,388.9 L476.1,392.4 L476.7,393.6 L477.3,395.7 L477.9,398.0 L478.5,397.6 L479.1,400.5 L479.6,399.7 L480.2,402.0 L480.8,403.0 L481.4,403.1 L482.0,402.2 L482.6,402.1 L483.2,404.8 L483.7,403.9 L484.3,404.2 L484.9,403.7 L485.5,405.3 L486.1,404.8 L486.7,405.3 L487.3,404.3 L487.8,405.8 L488.4,404.3 L489.0,406.0 L489.6,406.2 L490.2,405.1 L490.8,405.7 L491.4,406.7 L491.9,405.5 L492.5,406.9 L493.1,405.3 L493.7,405.5 L494.3,405.4 L494.9,405.8 L495.4,406.5 L496.0,406.4 L496.6,406.4 L497.2,405.3 L497.8,407.2 L498.4,371.4 L499.0,372.4 L499.5,370.9 L500.1,369.9 L500.7,367.5 L501.3,367.6 L501.9,367.2 L502.5,365.3 L503.1,366.3 L503.6,365.1 L504.2,364.5 L504.8,363.4 L505.4,363.0 L506.0,362.9 L506.6,363.2 L507.1,362.9 L507.7,363.0 L508.3,361.1 L508.9,361.2 L509.5,360.8 L510.1,361.9 L510.7,361.1 L511.2,360.1 L511.8,360.4 L512.4,361.3 L513.0,360.3 L513.6,359.2 L514.2,360.6 L514.8,360.6 L515.3,360.2 L515.9,359.2 L516.5,358.7 L517.1,360.3 L517.7,360.2 L518.3,359.9 L518.8,359.7 L519.4,359.1 L520.0,360.0 L520.6,359.5 L521.2,359.8 L521.8,385.4 L522.4,389.0 L522.9,393.0 L523.5,393.0 L524.1,396.8 L524.7,397.6 L525.3,397.4 L525.9,398.8 L526.5,399.9 L527.0,401.3 L527.6,402.5 L528.2,402.0 L528.8,403.8 L529.4,403.9 L530.0,403.8 L530.5,405.0 L531.1,404.4 L531.7,403.7 L532.3,404.1 L532.9,404.8 L533.5,404.6 L534.1,405.2 L534.6,406.1 L535.2,405.1 L535.8,405.7 L536.4,405.0 L537.0,404.6 L537.6,405.9 L538.1,405.6 L538.7,405.2 L539.3,406.1 L539.9,406.6 L540.5,405.5 L541.1,405.1 L541.7,405.4 L542.2,405.6 L542.8,405.3 L543.4,405.8 L544.0,405.9 L544.6,406.4 L545.2,406.7 L545.8,406.0 L546.3,407.3 L546.9,406.5 L547.5,405.7" fill="none" stroke="#b86a3c" stroke-width="1.25" clip-path="url(#cg)" stroke-linejoin="round"/>
<rect x="392.4" y="290.4" width="151.89999999999998" height="122.60000000000002" fill="none" stroke="#555" stroke-width="0.8"/>
<line x1="392.4" y1="409.0" x2="390.59999999999997" y2="409.0" stroke="#444" stroke-width="0.7"/>
<text x="388.2" y="411.2" style="font-family:'Liberation Sans',sans-serif;font-size:6.3px" fill="#333" text-anchor="end" >0</text>
<line x1="392.4" y1="389.2" x2="390.59999999999997" y2="389.2" stroke="#444" stroke-width="0.7"/>
<text x="388.2" y="391.4" style="font-family:'Liberation Sans',sans-serif;font-size:6.3px" fill="#333" text-anchor="end" >10</text>
<line x1="392.4" y1="369.4" x2="390.59999999999997" y2="369.4" stroke="#444" stroke-width="0.7"/>
<text x="388.2" y="371.59999999999997" style="font-family:'Liberation Sans',sans-serif;font-size:6.3px" fill="#333" text-anchor="end" >20</text>
<line x1="392.4" y1="349.6" x2="390.59999999999997" y2="349.6" stroke="#444" stroke-width="0.7"/>
<text x="388.2" y="351.8" style="font-family:'Liberation Sans',sans-serif;font-size:6.3px" fill="#333" text-anchor="end" >30</text>
<line x1="392.4" y1="329.8" x2="390.59999999999997" y2="329.8" stroke="#444" stroke-width="0.7"/>
<text x="388.2" y="332.0" style="font-family:'Liberation Sans',sans-serif;font-size:6.3px" fill="#333" text-anchor="end" >40</text>
<line x1="392.4" y1="310.0" x2="390.59999999999997" y2="310.0" stroke="#444" stroke-width="0.7"/>
<text x="388.2" y="312.2" style="font-family:'Liberation Sans',sans-serif;font-size:6.3px" fill="#333" text-anchor="end" >50</text>
<line x1="392.4" y1="290.2" x2="390.59999999999997" y2="290.2" stroke="#444" stroke-width="0.7"/>
<text x="388.2" y="292.4" style="font-family:'Liberation Sans',sans-serif;font-size:6.3px" fill="#333" text-anchor="end" >60</text>
<line x1="415.3" y1="413" x2="415.3" y2="414.8" stroke="#444" stroke-width="0.7"/>
<text x="415.3" y="422" style="font-family:'Liberation Sans',sans-serif;font-size:6.4px" fill="#333" text-anchor="middle" >150</text>
<line x1="473.8" y1="413" x2="473.8" y2="414.8" stroke="#444" stroke-width="0.7"/>
<text x="473.8" y="422" style="font-family:'Liberation Sans',sans-serif;font-size:6.4px" fill="#333" text-anchor="middle" >200</text>
<line x1="532.3" y1="413" x2="532.3" y2="414.8" stroke="#444" stroke-width="0.7"/>
<text x="532.3" y="422" style="font-family:'Liberation Sans',sans-serif;font-size:6.4px" fill="#333" text-anchor="middle" >250</text>
<text x="468.3" y="432" style="font-family:'Liberation Sans',sans-serif;font-weight:bold;font-size:9.2px" fill="#111" text-anchor="middle" >Time (sec)</text>
<text transform="translate(378.4,351.4) rotate(-90)" style="font-family:'Liberation Sans',sans-serif;font-weight:bold;font-size:9.2px" fill="#111" text-anchor="middle">Current (μA)</text>
<text x="400.3" y="307" style="font-family:'Liberation Sans',sans-serif;font-weight:bold;font-size:11.5px" fill="#000" text-anchor="start" >G</text>
<text x="405.2" y="332.6" style="font-family:'Liberation Sans',sans-serif;font-weight:bold;font-size:10.5px" fill="#000" text-anchor="middle" >On</text>
<text x="428.2" y="327.3" style="font-family:'Liberation Sans',sans-serif;font-weight:bold;font-size:10.5px" fill="#000" text-anchor="middle" >Off</text>
<line x1="405.1" y1="336.5" x2="405.1" y2="363" stroke="#000" stroke-width="1.5"/>
<polygon points="402.5,362 407.7,362 405.1,368.4" fill="#000"/>
<line x1="428.2" y1="330.5" x2="428.2" y2="350" stroke="#000" stroke-width="1.5"/>
<polygon points="425.6,349 430.8,349 428.2,355.2" fill="#000"/>
<line x1="468.9" y1="301" x2="481.7" y2="301" stroke="#b86a3c" stroke-width="1.5"/>
<text x="484.8" y="303.8" style="font-family:'Liberation Sans',sans-serif;font-weight:bold;font-size:7.6px" fill="#111" text-anchor="start" >Cu<tspan baseline-shift="-25%" style="font-size:70%">1</tspan>@C<tspan baseline-shift="-25%" style="font-size:70%">3</tspan>N<tspan baseline-shift="-25%" style="font-size:70%">5</tspan>-1</text>
<line x1="468.9" y1="312.9" x2="481.7" y2="312.9" stroke="#333" stroke-width="1.5"/>
<text x="484.8" y="315.7" style="font-family:'Liberation Sans',sans-serif;font-weight:bold;font-size:7.6px" fill="#111" text-anchor="start" >Co@C<tspan baseline-shift="-25%" style="font-size:70%">3</tspan>N<tspan baseline-shift="-25%" style="font-size:70%">5</tspan>-1</text>
<line x1="468.9" y1="324.8" x2="481.7" y2="324.8" stroke="#2f3fd8" stroke-width="1.5"/>
<text x="484.8" y="327.6" style="font-family:'Liberation Sans',sans-serif;font-weight:bold;font-size:7.6px" fill="#111" text-anchor="start" >C<tspan baseline-shift="-25%" style="font-size:70%">3</tspan>N<tspan baseline-shift="-25%" style="font-size:70%">5</tspan></text>
<line x1="468.9" y1="336.8" x2="481.7" y2="336.8" stroke="#b07ef0" stroke-width="1.5"/>
<text x="484.8" y="339.6" style="font-family:'Liberation Sans',sans-serif;font-weight:bold;font-size:7.6px" fill="#111" text-anchor="start" >Ni@C<tspan baseline-shift="-25%" style="font-size:70%">3</tspan>N<tspan baseline-shift="-25%" style="font-size:70%">5</tspan>-1</text>
<line x1="468.9" y1="348.9" x2="481.7" y2="348.9" stroke="#2a9060" stroke-width="1.5"/>
<text x="484.8" y="351.7" style="font-family:'Liberation Sans',sans-serif;font-weight:bold;font-size:7.6px" fill="#111" text-anchor="start" >Fe@C<tspan baseline-shift="-25%" style="font-size:70%">3</tspan>N<tspan baseline-shift="-25%" style="font-size:70%">5</tspan>-1</text>
<!--F-->
<!--G-->
</svg>
</body></html>
